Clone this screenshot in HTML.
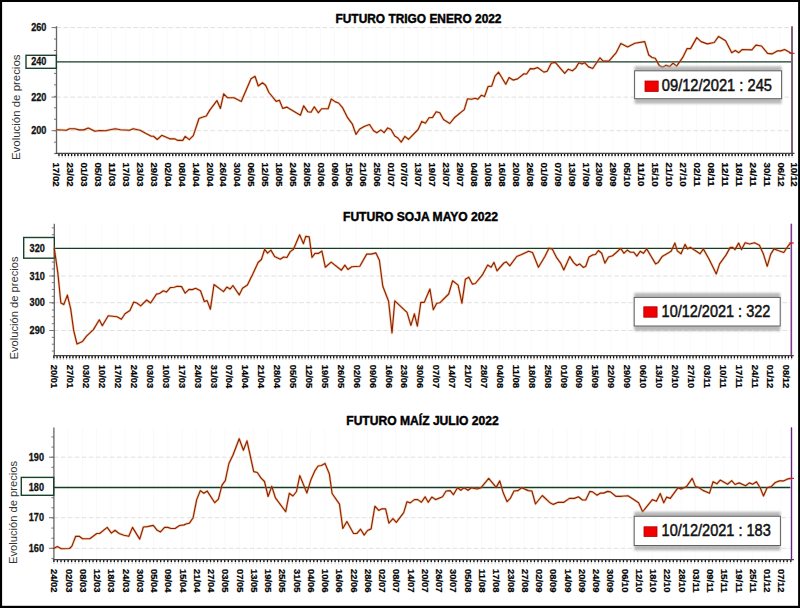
<!DOCTYPE html><html><head><meta charset="utf-8"><style>html,body{margin:0;padding:0;background:#000;}svg{display:block;}</style></head><body>
<svg width="800" height="608" viewBox="0 0 800 608" font-family='"Liberation Sans", sans-serif'>
<defs><filter id="sh" x="-10%" y="-40%" width="120%" height="180%"><feGaussianBlur stdDeviation="1.3"/></filter></defs>
<rect x="0" y="0" width="800" height="608" fill="#000"/>
<rect x="2.1" y="2" width="796.0" height="603.8" fill="#fff"/>
<line x1="69.74" y1="26.2" x2="69.74" y2="154.0" stroke="#fafafb" stroke-width="1"/>
<line x1="83.66" y1="26.2" x2="83.66" y2="154.0" stroke="#fafafb" stroke-width="1"/>
<line x1="97.59" y1="26.2" x2="97.59" y2="154.0" stroke="#fafafb" stroke-width="1"/>
<line x1="111.52" y1="26.2" x2="111.52" y2="154.0" stroke="#fafafb" stroke-width="1"/>
<line x1="125.45" y1="26.2" x2="125.45" y2="154.0" stroke="#fafafb" stroke-width="1"/>
<line x1="139.37" y1="26.2" x2="139.37" y2="154.0" stroke="#fafafb" stroke-width="1"/>
<line x1="153.30" y1="26.2" x2="153.30" y2="154.0" stroke="#fafafb" stroke-width="1"/>
<line x1="167.23" y1="26.2" x2="167.23" y2="154.0" stroke="#fafafb" stroke-width="1"/>
<line x1="181.16" y1="26.2" x2="181.16" y2="154.0" stroke="#fafafb" stroke-width="1"/>
<line x1="195.08" y1="26.2" x2="195.08" y2="154.0" stroke="#fafafb" stroke-width="1"/>
<line x1="209.01" y1="26.2" x2="209.01" y2="154.0" stroke="#fafafb" stroke-width="1"/>
<line x1="222.94" y1="26.2" x2="222.94" y2="154.0" stroke="#fafafb" stroke-width="1"/>
<line x1="236.87" y1="26.2" x2="236.87" y2="154.0" stroke="#fafafb" stroke-width="1"/>
<line x1="250.79" y1="26.2" x2="250.79" y2="154.0" stroke="#fafafb" stroke-width="1"/>
<line x1="264.72" y1="26.2" x2="264.72" y2="154.0" stroke="#fafafb" stroke-width="1"/>
<line x1="278.65" y1="26.2" x2="278.65" y2="154.0" stroke="#fafafb" stroke-width="1"/>
<line x1="292.58" y1="26.2" x2="292.58" y2="154.0" stroke="#fafafb" stroke-width="1"/>
<line x1="306.50" y1="26.2" x2="306.50" y2="154.0" stroke="#fafafb" stroke-width="1"/>
<line x1="320.43" y1="26.2" x2="320.43" y2="154.0" stroke="#fafafb" stroke-width="1"/>
<line x1="334.36" y1="26.2" x2="334.36" y2="154.0" stroke="#fafafb" stroke-width="1"/>
<line x1="348.28" y1="26.2" x2="348.28" y2="154.0" stroke="#fafafb" stroke-width="1"/>
<line x1="362.21" y1="26.2" x2="362.21" y2="154.0" stroke="#fafafb" stroke-width="1"/>
<line x1="376.14" y1="26.2" x2="376.14" y2="154.0" stroke="#fafafb" stroke-width="1"/>
<line x1="390.07" y1="26.2" x2="390.07" y2="154.0" stroke="#fafafb" stroke-width="1"/>
<line x1="403.99" y1="26.2" x2="403.99" y2="154.0" stroke="#fafafb" stroke-width="1"/>
<line x1="417.92" y1="26.2" x2="417.92" y2="154.0" stroke="#fafafb" stroke-width="1"/>
<line x1="431.85" y1="26.2" x2="431.85" y2="154.0" stroke="#fafafb" stroke-width="1"/>
<line x1="445.78" y1="26.2" x2="445.78" y2="154.0" stroke="#fafafb" stroke-width="1"/>
<line x1="459.70" y1="26.2" x2="459.70" y2="154.0" stroke="#fafafb" stroke-width="1"/>
<line x1="473.63" y1="26.2" x2="473.63" y2="154.0" stroke="#fafafb" stroke-width="1"/>
<line x1="487.56" y1="26.2" x2="487.56" y2="154.0" stroke="#fafafb" stroke-width="1"/>
<line x1="501.49" y1="26.2" x2="501.49" y2="154.0" stroke="#fafafb" stroke-width="1"/>
<line x1="515.41" y1="26.2" x2="515.41" y2="154.0" stroke="#fafafb" stroke-width="1"/>
<line x1="529.34" y1="26.2" x2="529.34" y2="154.0" stroke="#fafafb" stroke-width="1"/>
<line x1="543.27" y1="26.2" x2="543.27" y2="154.0" stroke="#fafafb" stroke-width="1"/>
<line x1="557.19" y1="26.2" x2="557.19" y2="154.0" stroke="#fafafb" stroke-width="1"/>
<line x1="571.12" y1="26.2" x2="571.12" y2="154.0" stroke="#fafafb" stroke-width="1"/>
<line x1="585.05" y1="26.2" x2="585.05" y2="154.0" stroke="#fafafb" stroke-width="1"/>
<line x1="598.98" y1="26.2" x2="598.98" y2="154.0" stroke="#fafafb" stroke-width="1"/>
<line x1="612.90" y1="26.2" x2="612.90" y2="154.0" stroke="#fafafb" stroke-width="1"/>
<line x1="626.83" y1="26.2" x2="626.83" y2="154.0" stroke="#fafafb" stroke-width="1"/>
<line x1="640.76" y1="26.2" x2="640.76" y2="154.0" stroke="#fafafb" stroke-width="1"/>
<line x1="654.69" y1="26.2" x2="654.69" y2="154.0" stroke="#fafafb" stroke-width="1"/>
<line x1="668.61" y1="26.2" x2="668.61" y2="154.0" stroke="#fafafb" stroke-width="1"/>
<line x1="682.54" y1="26.2" x2="682.54" y2="154.0" stroke="#fafafb" stroke-width="1"/>
<line x1="696.47" y1="26.2" x2="696.47" y2="154.0" stroke="#fafafb" stroke-width="1"/>
<line x1="710.40" y1="26.2" x2="710.40" y2="154.0" stroke="#fafafb" stroke-width="1"/>
<line x1="724.32" y1="26.2" x2="724.32" y2="154.0" stroke="#fafafb" stroke-width="1"/>
<line x1="738.25" y1="26.2" x2="738.25" y2="154.0" stroke="#fafafb" stroke-width="1"/>
<line x1="752.18" y1="26.2" x2="752.18" y2="154.0" stroke="#fafafb" stroke-width="1"/>
<line x1="766.11" y1="26.2" x2="766.11" y2="154.0" stroke="#fafafb" stroke-width="1"/>
<line x1="780.03" y1="26.2" x2="780.03" y2="154.0" stroke="#fafafb" stroke-width="1"/>
<line x1="56.5" y1="27.6" x2="792.0" y2="27.6" stroke="#e0e0e0" stroke-width="1" stroke-dasharray="4.5 2.5"/>
<line x1="56.5" y1="97.1" x2="792.0" y2="97.1" stroke="#e0e0e0" stroke-width="1" stroke-dasharray="4.5 2.5"/>
<line x1="56.5" y1="130.7" x2="792.0" y2="130.7" stroke="#e0e0e0" stroke-width="1" stroke-dasharray="4.5 2.5"/>
<line x1="54.00" y1="27.60" x2="56.5" y2="27.60" stroke="#777" stroke-width="1"/>
<line x1="54.00" y1="39.06" x2="56.5" y2="39.06" stroke="#777" stroke-width="1"/>
<line x1="54.00" y1="50.51" x2="56.5" y2="50.51" stroke="#777" stroke-width="1"/>
<line x1="54.00" y1="61.97" x2="56.5" y2="61.97" stroke="#777" stroke-width="1"/>
<line x1="54.00" y1="73.43" x2="56.5" y2="73.43" stroke="#777" stroke-width="1"/>
<line x1="54.00" y1="84.88" x2="56.5" y2="84.88" stroke="#777" stroke-width="1"/>
<line x1="54.00" y1="96.34" x2="56.5" y2="96.34" stroke="#777" stroke-width="1"/>
<line x1="54.00" y1="107.80" x2="56.5" y2="107.80" stroke="#777" stroke-width="1"/>
<line x1="54.00" y1="119.25" x2="56.5" y2="119.25" stroke="#777" stroke-width="1"/>
<line x1="54.00" y1="130.71" x2="56.5" y2="130.71" stroke="#777" stroke-width="1"/>
<line x1="54.00" y1="142.17" x2="56.5" y2="142.17" stroke="#777" stroke-width="1"/>
<line x1="54.00" y1="153.62" x2="56.5" y2="153.62" stroke="#777" stroke-width="1"/>
<line x1="51.5" y1="27.6" x2="56.5" y2="27.6" stroke="#777" stroke-width="1"/>
<line x1="51.5" y1="61.8" x2="56.5" y2="61.8" stroke="#777" stroke-width="1"/>
<line x1="51.5" y1="97.1" x2="56.5" y2="97.1" stroke="#777" stroke-width="1"/>
<line x1="51.5" y1="130.7" x2="56.5" y2="130.7" stroke="#777" stroke-width="1"/>
<line x1="56.5" y1="26.2" x2="56.5" y2="154.0" stroke="#666" stroke-width="1.3"/>
<line x1="56.5" y1="61.8" x2="792.0" y2="61.8" stroke="#153d26" stroke-width="1.35"/>
<rect x="26" y="55.3" width="30.30" height="13.00" fill="#fff" stroke="#17432a" stroke-width="1.4"/>
<text x="46.4" y="31.10" text-anchor="end" font-size="10" font-weight="bold" fill="#111" stroke="#111" stroke-width="0.3" textLength="15.2" lengthAdjust="spacingAndGlyphs">260</text>
<text x="46.4" y="65.30" text-anchor="end" font-size="10" font-weight="bold" fill="#111" stroke="#111" stroke-width="0.3" textLength="15.2" lengthAdjust="spacingAndGlyphs">240</text>
<text x="46.4" y="100.60" text-anchor="end" font-size="10" font-weight="bold" fill="#111" stroke="#111" stroke-width="0.3" textLength="15.2" lengthAdjust="spacingAndGlyphs">220</text>
<text x="46.4" y="134.20" text-anchor="end" font-size="10" font-weight="bold" fill="#111" stroke="#111" stroke-width="0.3" textLength="15.2" lengthAdjust="spacingAndGlyphs">200</text>
<line x1="792.0" y1="26.2" x2="792.0" y2="154.0" stroke="#7d6478" stroke-width="2"/>
<path d="M58.97 154.0 v3.6 M62.13 154.0 v3.6 M65.29 154.0 v3.6 M68.45 154.0 v3.6 M71.61 154.0 v3.6 M74.77 154.0 v3.6 M77.93 154.0 v3.6 M81.09 154.0 v3.6 M84.25 154.0 v3.6 M87.41 154.0 v3.6 M90.57 154.0 v3.6 M93.73 154.0 v3.6 M96.89 154.0 v3.6 M100.05 154.0 v3.6 M103.21 154.0 v3.6 M106.37 154.0 v3.6 M109.53 154.0 v3.6 M112.69 154.0 v3.6 M115.85 154.0 v3.6 M119.01 154.0 v3.6 M122.17 154.0 v3.6 M125.33 154.0 v3.6 M128.49 154.0 v3.6 M131.65 154.0 v3.6 M134.81 154.0 v3.6 M137.97 154.0 v3.6 M141.13 154.0 v3.6 M144.29 154.0 v3.6 M147.45 154.0 v3.6 M150.61 154.0 v3.6 M153.77 154.0 v3.6 M156.93 154.0 v3.6 M160.09 154.0 v3.6 M163.25 154.0 v3.6 M166.41 154.0 v3.6 M169.57 154.0 v3.6 M172.73 154.0 v3.6 M175.89 154.0 v3.6 M179.05 154.0 v3.6 M182.21 154.0 v3.6 M185.37 154.0 v3.6 M188.53 154.0 v3.6 M191.69 154.0 v3.6 M194.85 154.0 v3.6 M198.01 154.0 v3.6 M201.17 154.0 v3.6 M204.33 154.0 v3.6 M207.49 154.0 v3.6 M210.65 154.0 v3.6 M213.81 154.0 v3.6 M216.97 154.0 v3.6 M220.13 154.0 v3.6 M223.29 154.0 v3.6 M226.45 154.0 v3.6 M229.61 154.0 v3.6 M232.77 154.0 v3.6 M235.93 154.0 v3.6 M239.09 154.0 v3.6 M242.25 154.0 v3.6 M245.41 154.0 v3.6 M248.57 154.0 v3.6 M251.73 154.0 v3.6 M254.89 154.0 v3.6 M258.05 154.0 v3.6 M261.21 154.0 v3.6 M264.37 154.0 v3.6 M267.53 154.0 v3.6 M270.69 154.0 v3.6 M273.85 154.0 v3.6 M277.01 154.0 v3.6 M280.17 154.0 v3.6 M283.33 154.0 v3.6 M286.49 154.0 v3.6 M289.65 154.0 v3.6 M292.81 154.0 v3.6 M295.97 154.0 v3.6 M299.13 154.0 v3.6 M302.29 154.0 v3.6 M305.45 154.0 v3.6 M308.61 154.0 v3.6 M311.77 154.0 v3.6 M314.93 154.0 v3.6 M318.09 154.0 v3.6 M321.25 154.0 v3.6 M324.41 154.0 v3.6 M327.57 154.0 v3.6 M330.73 154.0 v3.6 M333.89 154.0 v3.6 M337.05 154.0 v3.6 M340.21 154.0 v3.6 M343.37 154.0 v3.6 M346.53 154.0 v3.6 M349.69 154.0 v3.6 M352.85 154.0 v3.6 M356.01 154.0 v3.6 M359.17 154.0 v3.6 M362.33 154.0 v3.6 M365.49 154.0 v3.6 M368.65 154.0 v3.6 M371.81 154.0 v3.6 M374.97 154.0 v3.6 M378.13 154.0 v3.6 M381.29 154.0 v3.6 M384.45 154.0 v3.6 M387.61 154.0 v3.6 M390.77 154.0 v3.6 M393.93 154.0 v3.6 M397.09 154.0 v3.6 M400.25 154.0 v3.6 M403.41 154.0 v3.6 M406.57 154.0 v3.6 M409.73 154.0 v3.6 M412.89 154.0 v3.6 M416.05 154.0 v3.6 M419.21 154.0 v3.6 M422.37 154.0 v3.6 M425.53 154.0 v3.6 M428.69 154.0 v3.6 M431.85 154.0 v3.6 M435.01 154.0 v3.6 M438.17 154.0 v3.6 M441.33 154.0 v3.6 M444.49 154.0 v3.6 M447.65 154.0 v3.6 M450.81 154.0 v3.6 M453.97 154.0 v3.6 M457.13 154.0 v3.6 M460.29 154.0 v3.6 M463.45 154.0 v3.6 M466.61 154.0 v3.6 M469.77 154.0 v3.6 M472.93 154.0 v3.6 M476.09 154.0 v3.6 M479.25 154.0 v3.6 M482.41 154.0 v3.6 M485.57 154.0 v3.6 M488.73 154.0 v3.6 M491.89 154.0 v3.6 M495.05 154.0 v3.6 M498.21 154.0 v3.6 M501.37 154.0 v3.6 M504.53 154.0 v3.6 M507.69 154.0 v3.6 M510.85 154.0 v3.6 M514.01 154.0 v3.6 M517.17 154.0 v3.6 M520.33 154.0 v3.6 M523.49 154.0 v3.6 M526.65 154.0 v3.6 M529.81 154.0 v3.6 M532.97 154.0 v3.6 M536.13 154.0 v3.6 M539.29 154.0 v3.6 M542.45 154.0 v3.6 M545.61 154.0 v3.6 M548.77 154.0 v3.6 M551.93 154.0 v3.6 M555.09 154.0 v3.6 M558.25 154.0 v3.6 M561.41 154.0 v3.6 M564.57 154.0 v3.6 M567.73 154.0 v3.6 M570.89 154.0 v3.6 M574.05 154.0 v3.6 M577.21 154.0 v3.6 M580.37 154.0 v3.6 M583.53 154.0 v3.6 M586.69 154.0 v3.6 M589.85 154.0 v3.6 M593.01 154.0 v3.6 M596.17 154.0 v3.6 M599.33 154.0 v3.6 M602.49 154.0 v3.6 M605.65 154.0 v3.6 M608.81 154.0 v3.6 M611.97 154.0 v3.6 M615.13 154.0 v3.6 M618.29 154.0 v3.6 M621.45 154.0 v3.6 M624.61 154.0 v3.6 M627.77 154.0 v3.6 M630.93 154.0 v3.6 M634.09 154.0 v3.6 M637.25 154.0 v3.6 M640.41 154.0 v3.6 M643.57 154.0 v3.6 M646.73 154.0 v3.6 M649.89 154.0 v3.6 M653.05 154.0 v3.6 M656.21 154.0 v3.6 M659.37 154.0 v3.6 M662.53 154.0 v3.6 M665.69 154.0 v3.6 M668.85 154.0 v3.6 M672.01 154.0 v3.6 M675.17 154.0 v3.6 M678.33 154.0 v3.6 M681.49 154.0 v3.6 M684.65 154.0 v3.6 M687.81 154.0 v3.6 M690.97 154.0 v3.6 M694.13 154.0 v3.6 M697.29 154.0 v3.6 M700.45 154.0 v3.6 M703.61 154.0 v3.6 M706.77 154.0 v3.6 M709.93 154.0 v3.6 M713.09 154.0 v3.6 M716.25 154.0 v3.6 M719.41 154.0 v3.6 M722.57 154.0 v3.6 M725.73 154.0 v3.6 M728.89 154.0 v3.6 M732.05 154.0 v3.6 M735.21 154.0 v3.6 M738.37 154.0 v3.6 M741.53 154.0 v3.6 M744.69 154.0 v3.6 M747.85 154.0 v3.6 M751.01 154.0 v3.6 M754.17 154.0 v3.6 M757.33 154.0 v3.6 M760.49 154.0 v3.6 M763.65 154.0 v3.6 M766.81 154.0 v3.6 M769.97 154.0 v3.6 M773.13 154.0 v3.6 M776.29 154.0 v3.6 M779.45 154.0 v3.6 M782.61 154.0 v3.6 M785.77 154.0 v3.6 M788.93 154.0 v3.6 M792.09 154.0 v3.6" stroke="#c4c4c4" stroke-width="1"/>
<path d="M58.97 153.5 v2.4 M62.13 153.5 v2.4 M65.29 153.5 v2.4 M68.45 153.5 v2.4 M71.61 153.5 v2.4 M74.77 153.5 v2.4 M77.93 153.5 v2.4 M81.09 153.5 v2.4 M84.25 153.5 v2.4 M87.41 153.5 v2.4 M90.57 153.5 v2.4 M93.73 153.5 v2.4 M96.89 153.5 v2.4 M100.05 153.5 v2.4 M103.21 153.5 v2.4 M106.37 153.5 v2.4 M109.53 153.5 v2.4 M112.69 153.5 v2.4 M115.85 153.5 v2.4 M119.01 153.5 v2.4 M122.17 153.5 v2.4 M125.33 153.5 v2.4 M128.49 153.5 v2.4 M131.65 153.5 v2.4 M134.81 153.5 v2.4 M137.97 153.5 v2.4 M141.13 153.5 v2.4 M144.29 153.5 v2.4 M147.45 153.5 v2.4 M150.61 153.5 v2.4 M153.77 153.5 v2.4 M156.93 153.5 v2.4 M160.09 153.5 v2.4 M163.25 153.5 v2.4 M166.41 153.5 v2.4 M169.57 153.5 v2.4 M172.73 153.5 v2.4 M175.89 153.5 v2.4 M179.05 153.5 v2.4 M182.21 153.5 v2.4 M185.37 153.5 v2.4 M188.53 153.5 v2.4 M191.69 153.5 v2.4 M194.85 153.5 v2.4 M198.01 153.5 v2.4 M201.17 153.5 v2.4 M204.33 153.5 v2.4 M207.49 153.5 v2.4 M210.65 153.5 v2.4 M213.81 153.5 v2.4 M216.97 153.5 v2.4 M220.13 153.5 v2.4 M223.29 153.5 v2.4 M226.45 153.5 v2.4 M229.61 153.5 v2.4 M232.77 153.5 v2.4 M235.93 153.5 v2.4 M239.09 153.5 v2.4 M242.25 153.5 v2.4 M245.41 153.5 v2.4 M248.57 153.5 v2.4 M251.73 153.5 v2.4 M254.89 153.5 v2.4 M258.05 153.5 v2.4 M261.21 153.5 v2.4 M264.37 153.5 v2.4 M267.53 153.5 v2.4 M270.69 153.5 v2.4 M273.85 153.5 v2.4 M277.01 153.5 v2.4 M280.17 153.5 v2.4 M283.33 153.5 v2.4 M286.49 153.5 v2.4 M289.65 153.5 v2.4 M292.81 153.5 v2.4 M295.97 153.5 v2.4 M299.13 153.5 v2.4 M302.29 153.5 v2.4 M305.45 153.5 v2.4 M308.61 153.5 v2.4 M311.77 153.5 v2.4 M314.93 153.5 v2.4 M318.09 153.5 v2.4 M321.25 153.5 v2.4 M324.41 153.5 v2.4 M327.57 153.5 v2.4 M330.73 153.5 v2.4 M333.89 153.5 v2.4 M337.05 153.5 v2.4 M340.21 153.5 v2.4 M343.37 153.5 v2.4 M346.53 153.5 v2.4 M349.69 153.5 v2.4 M352.85 153.5 v2.4 M356.01 153.5 v2.4 M359.17 153.5 v2.4 M362.33 153.5 v2.4 M365.49 153.5 v2.4 M368.65 153.5 v2.4 M371.81 153.5 v2.4 M374.97 153.5 v2.4 M378.13 153.5 v2.4 M381.29 153.5 v2.4 M384.45 153.5 v2.4 M387.61 153.5 v2.4 M390.77 153.5 v2.4 M393.93 153.5 v2.4 M397.09 153.5 v2.4 M400.25 153.5 v2.4 M403.41 153.5 v2.4 M406.57 153.5 v2.4 M409.73 153.5 v2.4 M412.89 153.5 v2.4 M416.05 153.5 v2.4 M419.21 153.5 v2.4 M422.37 153.5 v2.4 M425.53 153.5 v2.4 M428.69 153.5 v2.4 M431.85 153.5 v2.4 M435.01 153.5 v2.4 M438.17 153.5 v2.4 M441.33 153.5 v2.4 M444.49 153.5 v2.4 M447.65 153.5 v2.4 M450.81 153.5 v2.4 M453.97 153.5 v2.4 M457.13 153.5 v2.4 M460.29 153.5 v2.4 M463.45 153.5 v2.4 M466.61 153.5 v2.4 M469.77 153.5 v2.4 M472.93 153.5 v2.4 M476.09 153.5 v2.4 M479.25 153.5 v2.4 M482.41 153.5 v2.4 M485.57 153.5 v2.4 M488.73 153.5 v2.4 M491.89 153.5 v2.4 M495.05 153.5 v2.4 M498.21 153.5 v2.4 M501.37 153.5 v2.4 M504.53 153.5 v2.4 M507.69 153.5 v2.4 M510.85 153.5 v2.4 M514.01 153.5 v2.4 M517.17 153.5 v2.4 M520.33 153.5 v2.4 M523.49 153.5 v2.4 M526.65 153.5 v2.4 M529.81 153.5 v2.4 M532.97 153.5 v2.4 M536.13 153.5 v2.4 M539.29 153.5 v2.4 M542.45 153.5 v2.4 M545.61 153.5 v2.4 M548.77 153.5 v2.4 M551.93 153.5 v2.4 M555.09 153.5 v2.4 M558.25 153.5 v2.4 M561.41 153.5 v2.4 M564.57 153.5 v2.4 M567.73 153.5 v2.4 M570.89 153.5 v2.4 M574.05 153.5 v2.4 M577.21 153.5 v2.4 M580.37 153.5 v2.4 M583.53 153.5 v2.4 M586.69 153.5 v2.4 M589.85 153.5 v2.4 M593.01 153.5 v2.4 M596.17 153.5 v2.4 M599.33 153.5 v2.4 M602.49 153.5 v2.4 M605.65 153.5 v2.4 M608.81 153.5 v2.4 M611.97 153.5 v2.4 M615.13 153.5 v2.4 M618.29 153.5 v2.4 M621.45 153.5 v2.4 M624.61 153.5 v2.4 M627.77 153.5 v2.4 M630.93 153.5 v2.4 M634.09 153.5 v2.4 M637.25 153.5 v2.4 M640.41 153.5 v2.4 M643.57 153.5 v2.4 M646.73 153.5 v2.4 M649.89 153.5 v2.4 M653.05 153.5 v2.4 M656.21 153.5 v2.4 M659.37 153.5 v2.4 M662.53 153.5 v2.4 M665.69 153.5 v2.4 M668.85 153.5 v2.4 M672.01 153.5 v2.4 M675.17 153.5 v2.4 M678.33 153.5 v2.4 M681.49 153.5 v2.4 M684.65 153.5 v2.4 M687.81 153.5 v2.4 M690.97 153.5 v2.4 M694.13 153.5 v2.4 M697.29 153.5 v2.4 M700.45 153.5 v2.4 M703.61 153.5 v2.4 M706.77 153.5 v2.4 M709.93 153.5 v2.4 M713.09 153.5 v2.4 M716.25 153.5 v2.4 M719.41 153.5 v2.4 M722.57 153.5 v2.4 M725.73 153.5 v2.4 M728.89 153.5 v2.4 M732.05 153.5 v2.4 M735.21 153.5 v2.4 M738.37 153.5 v2.4 M741.53 153.5 v2.4 M744.69 153.5 v2.4 M747.85 153.5 v2.4 M751.01 153.5 v2.4 M754.17 153.5 v2.4 M757.33 153.5 v2.4 M760.49 153.5 v2.4 M763.65 153.5 v2.4 M766.81 153.5 v2.4 M769.97 153.5 v2.4 M773.13 153.5 v2.4 M776.29 153.5 v2.4 M779.45 153.5 v2.4 M782.61 153.5 v2.4 M785.77 153.5 v2.4 M788.93 153.5 v2.4 M792.09 153.5 v2.4" stroke="#111" stroke-width="1.3"/>
<line x1="55.5" y1="153.4" x2="794.5" y2="153.4" stroke="#444" stroke-width="1.2"/>
<text transform="translate(53.31,162.50) rotate(90)" font-size="9.7" font-weight="bold" fill="#000" stroke="#000" stroke-width="0.22" textLength="24.1" lengthAdjust="spacingAndGlyphs">17/02</text>
<text transform="translate(67.24,162.50) rotate(90)" font-size="9.7" font-weight="bold" fill="#000" stroke="#000" stroke-width="0.22" textLength="24.1" lengthAdjust="spacingAndGlyphs">23/02</text>
<text transform="translate(81.16,162.50) rotate(90)" font-size="9.7" font-weight="bold" fill="#000" stroke="#000" stroke-width="0.22" textLength="24.1" lengthAdjust="spacingAndGlyphs">01/03</text>
<text transform="translate(95.09,162.50) rotate(90)" font-size="9.7" font-weight="bold" fill="#000" stroke="#000" stroke-width="0.22" textLength="24.1" lengthAdjust="spacingAndGlyphs">05/03</text>
<text transform="translate(109.02,162.50) rotate(90)" font-size="9.7" font-weight="bold" fill="#000" stroke="#000" stroke-width="0.22" textLength="24.1" lengthAdjust="spacingAndGlyphs">11/03</text>
<text transform="translate(122.95,162.50) rotate(90)" font-size="9.7" font-weight="bold" fill="#000" stroke="#000" stroke-width="0.22" textLength="24.1" lengthAdjust="spacingAndGlyphs">17/03</text>
<text transform="translate(136.87,162.50) rotate(90)" font-size="9.7" font-weight="bold" fill="#000" stroke="#000" stroke-width="0.22" textLength="24.1" lengthAdjust="spacingAndGlyphs">23/03</text>
<text transform="translate(150.80,162.50) rotate(90)" font-size="9.7" font-weight="bold" fill="#000" stroke="#000" stroke-width="0.22" textLength="24.1" lengthAdjust="spacingAndGlyphs">29/03</text>
<text transform="translate(164.73,162.50) rotate(90)" font-size="9.7" font-weight="bold" fill="#000" stroke="#000" stroke-width="0.22" textLength="24.1" lengthAdjust="spacingAndGlyphs">02/04</text>
<text transform="translate(178.66,162.50) rotate(90)" font-size="9.7" font-weight="bold" fill="#000" stroke="#000" stroke-width="0.22" textLength="24.1" lengthAdjust="spacingAndGlyphs">08/04</text>
<text transform="translate(192.58,162.50) rotate(90)" font-size="9.7" font-weight="bold" fill="#000" stroke="#000" stroke-width="0.22" textLength="24.1" lengthAdjust="spacingAndGlyphs">14/04</text>
<text transform="translate(206.51,162.50) rotate(90)" font-size="9.7" font-weight="bold" fill="#000" stroke="#000" stroke-width="0.22" textLength="24.1" lengthAdjust="spacingAndGlyphs">20/04</text>
<text transform="translate(220.44,162.50) rotate(90)" font-size="9.7" font-weight="bold" fill="#000" stroke="#000" stroke-width="0.22" textLength="24.1" lengthAdjust="spacingAndGlyphs">26/04</text>
<text transform="translate(234.37,162.50) rotate(90)" font-size="9.7" font-weight="bold" fill="#000" stroke="#000" stroke-width="0.22" textLength="24.1" lengthAdjust="spacingAndGlyphs">30/04</text>
<text transform="translate(248.29,162.50) rotate(90)" font-size="9.7" font-weight="bold" fill="#000" stroke="#000" stroke-width="0.22" textLength="24.1" lengthAdjust="spacingAndGlyphs">06/05</text>
<text transform="translate(262.22,162.50) rotate(90)" font-size="9.7" font-weight="bold" fill="#000" stroke="#000" stroke-width="0.22" textLength="24.1" lengthAdjust="spacingAndGlyphs">12/05</text>
<text transform="translate(276.15,162.50) rotate(90)" font-size="9.7" font-weight="bold" fill="#000" stroke="#000" stroke-width="0.22" textLength="24.1" lengthAdjust="spacingAndGlyphs">18/05</text>
<text transform="translate(290.08,162.50) rotate(90)" font-size="9.7" font-weight="bold" fill="#000" stroke="#000" stroke-width="0.22" textLength="24.1" lengthAdjust="spacingAndGlyphs">24/05</text>
<text transform="translate(304.00,162.50) rotate(90)" font-size="9.7" font-weight="bold" fill="#000" stroke="#000" stroke-width="0.22" textLength="24.1" lengthAdjust="spacingAndGlyphs">28/05</text>
<text transform="translate(317.93,162.50) rotate(90)" font-size="9.7" font-weight="bold" fill="#000" stroke="#000" stroke-width="0.22" textLength="24.1" lengthAdjust="spacingAndGlyphs">03/06</text>
<text transform="translate(331.86,162.50) rotate(90)" font-size="9.7" font-weight="bold" fill="#000" stroke="#000" stroke-width="0.22" textLength="24.1" lengthAdjust="spacingAndGlyphs">09/06</text>
<text transform="translate(345.78,162.50) rotate(90)" font-size="9.7" font-weight="bold" fill="#000" stroke="#000" stroke-width="0.22" textLength="24.1" lengthAdjust="spacingAndGlyphs">15/06</text>
<text transform="translate(359.71,162.50) rotate(90)" font-size="9.7" font-weight="bold" fill="#000" stroke="#000" stroke-width="0.22" textLength="24.1" lengthAdjust="spacingAndGlyphs">21/06</text>
<text transform="translate(373.64,162.50) rotate(90)" font-size="9.7" font-weight="bold" fill="#000" stroke="#000" stroke-width="0.22" textLength="24.1" lengthAdjust="spacingAndGlyphs">25/06</text>
<text transform="translate(387.57,162.50) rotate(90)" font-size="9.7" font-weight="bold" fill="#000" stroke="#000" stroke-width="0.22" textLength="24.1" lengthAdjust="spacingAndGlyphs">01/07</text>
<text transform="translate(401.49,162.50) rotate(90)" font-size="9.7" font-weight="bold" fill="#000" stroke="#000" stroke-width="0.22" textLength="24.1" lengthAdjust="spacingAndGlyphs">07/07</text>
<text transform="translate(415.42,162.50) rotate(90)" font-size="9.7" font-weight="bold" fill="#000" stroke="#000" stroke-width="0.22" textLength="24.1" lengthAdjust="spacingAndGlyphs">13/07</text>
<text transform="translate(429.35,162.50) rotate(90)" font-size="9.7" font-weight="bold" fill="#000" stroke="#000" stroke-width="0.22" textLength="24.1" lengthAdjust="spacingAndGlyphs">19/07</text>
<text transform="translate(443.28,162.50) rotate(90)" font-size="9.7" font-weight="bold" fill="#000" stroke="#000" stroke-width="0.22" textLength="24.1" lengthAdjust="spacingAndGlyphs">23/07</text>
<text transform="translate(457.20,162.50) rotate(90)" font-size="9.7" font-weight="bold" fill="#000" stroke="#000" stroke-width="0.22" textLength="24.1" lengthAdjust="spacingAndGlyphs">29/07</text>
<text transform="translate(471.13,162.50) rotate(90)" font-size="9.7" font-weight="bold" fill="#000" stroke="#000" stroke-width="0.22" textLength="24.1" lengthAdjust="spacingAndGlyphs">04/08</text>
<text transform="translate(485.06,162.50) rotate(90)" font-size="9.7" font-weight="bold" fill="#000" stroke="#000" stroke-width="0.22" textLength="24.1" lengthAdjust="spacingAndGlyphs">10/08</text>
<text transform="translate(498.99,162.50) rotate(90)" font-size="9.7" font-weight="bold" fill="#000" stroke="#000" stroke-width="0.22" textLength="24.1" lengthAdjust="spacingAndGlyphs">16/08</text>
<text transform="translate(512.91,162.50) rotate(90)" font-size="9.7" font-weight="bold" fill="#000" stroke="#000" stroke-width="0.22" textLength="24.1" lengthAdjust="spacingAndGlyphs">20/08</text>
<text transform="translate(526.84,162.50) rotate(90)" font-size="9.7" font-weight="bold" fill="#000" stroke="#000" stroke-width="0.22" textLength="24.1" lengthAdjust="spacingAndGlyphs">26/08</text>
<text transform="translate(540.77,162.50) rotate(90)" font-size="9.7" font-weight="bold" fill="#000" stroke="#000" stroke-width="0.22" textLength="24.1" lengthAdjust="spacingAndGlyphs">01/09</text>
<text transform="translate(554.69,162.50) rotate(90)" font-size="9.7" font-weight="bold" fill="#000" stroke="#000" stroke-width="0.22" textLength="24.1" lengthAdjust="spacingAndGlyphs">07/09</text>
<text transform="translate(568.62,162.50) rotate(90)" font-size="9.7" font-weight="bold" fill="#000" stroke="#000" stroke-width="0.22" textLength="24.1" lengthAdjust="spacingAndGlyphs">13/09</text>
<text transform="translate(582.55,162.50) rotate(90)" font-size="9.7" font-weight="bold" fill="#000" stroke="#000" stroke-width="0.22" textLength="24.1" lengthAdjust="spacingAndGlyphs">17/09</text>
<text transform="translate(596.48,162.50) rotate(90)" font-size="9.7" font-weight="bold" fill="#000" stroke="#000" stroke-width="0.22" textLength="24.1" lengthAdjust="spacingAndGlyphs">23/09</text>
<text transform="translate(610.40,162.50) rotate(90)" font-size="9.7" font-weight="bold" fill="#000" stroke="#000" stroke-width="0.22" textLength="24.1" lengthAdjust="spacingAndGlyphs">29/09</text>
<text transform="translate(624.33,162.50) rotate(90)" font-size="9.7" font-weight="bold" fill="#000" stroke="#000" stroke-width="0.22" textLength="24.1" lengthAdjust="spacingAndGlyphs">05/10</text>
<text transform="translate(638.26,162.50) rotate(90)" font-size="9.7" font-weight="bold" fill="#000" stroke="#000" stroke-width="0.22" textLength="24.1" lengthAdjust="spacingAndGlyphs">11/10</text>
<text transform="translate(652.19,162.50) rotate(90)" font-size="9.7" font-weight="bold" fill="#000" stroke="#000" stroke-width="0.22" textLength="24.1" lengthAdjust="spacingAndGlyphs">15/10</text>
<text transform="translate(666.11,162.50) rotate(90)" font-size="9.7" font-weight="bold" fill="#000" stroke="#000" stroke-width="0.22" textLength="24.1" lengthAdjust="spacingAndGlyphs">21/10</text>
<text transform="translate(680.04,162.50) rotate(90)" font-size="9.7" font-weight="bold" fill="#000" stroke="#000" stroke-width="0.22" textLength="24.1" lengthAdjust="spacingAndGlyphs">27/10</text>
<text transform="translate(693.97,162.50) rotate(90)" font-size="9.7" font-weight="bold" fill="#000" stroke="#000" stroke-width="0.22" textLength="24.1" lengthAdjust="spacingAndGlyphs">02/11</text>
<text transform="translate(707.90,162.50) rotate(90)" font-size="9.7" font-weight="bold" fill="#000" stroke="#000" stroke-width="0.22" textLength="24.1" lengthAdjust="spacingAndGlyphs">08/11</text>
<text transform="translate(721.82,162.50) rotate(90)" font-size="9.7" font-weight="bold" fill="#000" stroke="#000" stroke-width="0.22" textLength="24.1" lengthAdjust="spacingAndGlyphs">12/11</text>
<text transform="translate(735.75,162.50) rotate(90)" font-size="9.7" font-weight="bold" fill="#000" stroke="#000" stroke-width="0.22" textLength="24.1" lengthAdjust="spacingAndGlyphs">18/11</text>
<text transform="translate(749.68,162.50) rotate(90)" font-size="9.7" font-weight="bold" fill="#000" stroke="#000" stroke-width="0.22" textLength="24.1" lengthAdjust="spacingAndGlyphs">24/11</text>
<text transform="translate(763.61,162.50) rotate(90)" font-size="9.7" font-weight="bold" fill="#000" stroke="#000" stroke-width="0.22" textLength="24.1" lengthAdjust="spacingAndGlyphs">30/11</text>
<text transform="translate(777.53,162.50) rotate(90)" font-size="9.7" font-weight="bold" fill="#000" stroke="#000" stroke-width="0.22" textLength="24.1" lengthAdjust="spacingAndGlyphs">06/12</text>
<text transform="translate(791.46,162.50) rotate(90)" font-size="9.7" font-weight="bold" fill="#000" stroke="#000" stroke-width="0.22" textLength="24.1" lengthAdjust="spacingAndGlyphs">10/12</text>
<polyline points="56.75,129.75 66.50,130.20 69.50,128.70 74.75,128.70 79.25,129.90 83.75,129.90 88.25,128.00 95.00,131.25 99.50,130.50 105.50,130.80 110.00,129.75 115.25,128.70 120.50,129.75 129.50,130.20 133.25,128.70 140.00,130.20 146.00,133.50 151.25,136.20 153.50,136.20 157.25,139.50 161.75,135.30 169.75,138.80 174.60,138.80 177.90,140.40 182.75,140.40 185.20,136.40 189.25,139.60 193.30,135.60 199.00,118.50 202.25,117.20 206.30,116.00 209.60,110.40 216.90,100.60 220.40,108.40 223.70,93.80 227.40,97.70 233.90,97.70 241.25,101.40 251.00,78.70 255.00,76.25 258.30,86.00 262.40,82.75 265.60,85.20 268.90,92.50 276.20,101.40 279.40,100.30 282.70,108.40 286.75,107.10 288.25,108.00 300.40,115.25 303.70,105.80 307.75,111.70 311.00,112.30 314.25,106.80 318.30,112.80 321.60,108.75 328.10,108.75 331.30,99.00 335.40,101.90 338.60,103.00 342.70,107.90 347.60,117.70 352.40,124.20 356.00,134.40 359.75,129.00 364.60,126.30 369.50,124.50 373.60,130.70 376.80,132.80 380.90,129.90 384.10,132.60 387.70,127.90 391.00,129.50 394.70,136.00 397.90,138.00 401.20,142.10 404.90,136.40 408.50,139.30 418.10,129.50 421.75,121.40 425.40,123.20 429.00,117.80 432.60,117.40 436.20,111.80 439.80,112.70 443.50,119.60 449.80,123.50 454.30,117.80 464.25,109.60 467.50,98.80 471.50,99.30 475.10,98.20 477.80,99.30 481.40,95.20 484.50,96.60 488.10,86.50 491.70,86.10 495.00,76.20 498.60,72.20 505.80,84.30 509.10,77.60 513.10,80.10 517.60,78.90 523.90,73.80 526.60,74.00 530.25,68.60 533.90,68.90 537.50,67.50 543.90,72.10 547.20,71.30 551.25,63.20 555.30,62.40 560.20,68.10 564.70,73.30 568.30,69.20 572.40,70.80 575.60,68.10 578.90,62.70 582.10,64.00 584.60,62.70 588.60,66.90 592.70,68.50 600.00,57.80 603.25,61.10 608.90,61.10 616.25,52.60 620.80,43.40 627.60,46.90 634.90,43.20 644.70,41.60 648.75,55.00 652.00,57.50 655.25,58.30 659.30,65.60 662.60,67.35 666.10,65.25 669.60,66.65 673.10,63.15 676.60,66.10 682.75,57.40 687.10,48.60 690.60,48.60 696.75,37.60 701.10,41.60 707.25,43.90 714.25,42.50 718.60,36.40 725.60,40.75 731.75,52.65 735.25,50.40 738.75,52.65 742.25,49.50 751.90,49.85 755.90,45.10 761.50,46.00 767.60,53.35 772.00,53.90 777.25,50.90 780.75,50.90 784.60,49.50 791.25,53.35" fill="none" stroke="#f08038" stroke-opacity="0.4" stroke-width="2.5" stroke-linejoin="round" stroke-linecap="round"/>
<polyline points="56.75,129.75 66.50,130.20 69.50,128.70 74.75,128.70 79.25,129.90 83.75,129.90 88.25,128.00 95.00,131.25 99.50,130.50 105.50,130.80 110.00,129.75 115.25,128.70 120.50,129.75 129.50,130.20 133.25,128.70 140.00,130.20 146.00,133.50 151.25,136.20 153.50,136.20 157.25,139.50 161.75,135.30 169.75,138.80 174.60,138.80 177.90,140.40 182.75,140.40 185.20,136.40 189.25,139.60 193.30,135.60 199.00,118.50 202.25,117.20 206.30,116.00 209.60,110.40 216.90,100.60 220.40,108.40 223.70,93.80 227.40,97.70 233.90,97.70 241.25,101.40 251.00,78.70 255.00,76.25 258.30,86.00 262.40,82.75 265.60,85.20 268.90,92.50 276.20,101.40 279.40,100.30 282.70,108.40 286.75,107.10 288.25,108.00 300.40,115.25 303.70,105.80 307.75,111.70 311.00,112.30 314.25,106.80 318.30,112.80 321.60,108.75 328.10,108.75 331.30,99.00 335.40,101.90 338.60,103.00 342.70,107.90 347.60,117.70 352.40,124.20 356.00,134.40 359.75,129.00 364.60,126.30 369.50,124.50 373.60,130.70 376.80,132.80 380.90,129.90 384.10,132.60 387.70,127.90 391.00,129.50 394.70,136.00 397.90,138.00 401.20,142.10 404.90,136.40 408.50,139.30 418.10,129.50 421.75,121.40 425.40,123.20 429.00,117.80 432.60,117.40 436.20,111.80 439.80,112.70 443.50,119.60 449.80,123.50 454.30,117.80 464.25,109.60 467.50,98.80 471.50,99.30 475.10,98.20 477.80,99.30 481.40,95.20 484.50,96.60 488.10,86.50 491.70,86.10 495.00,76.20 498.60,72.20 505.80,84.30 509.10,77.60 513.10,80.10 517.60,78.90 523.90,73.80 526.60,74.00 530.25,68.60 533.90,68.90 537.50,67.50 543.90,72.10 547.20,71.30 551.25,63.20 555.30,62.40 560.20,68.10 564.70,73.30 568.30,69.20 572.40,70.80 575.60,68.10 578.90,62.70 582.10,64.00 584.60,62.70 588.60,66.90 592.70,68.50 600.00,57.80 603.25,61.10 608.90,61.10 616.25,52.60 620.80,43.40 627.60,46.90 634.90,43.20 644.70,41.60 648.75,55.00 652.00,57.50 655.25,58.30 659.30,65.60 662.60,67.35 666.10,65.25 669.60,66.65 673.10,63.15 676.60,66.10 682.75,57.40 687.10,48.60 690.60,48.60 696.75,37.60 701.10,41.60 707.25,43.90 714.25,42.50 718.60,36.40 725.60,40.75 731.75,52.65 735.25,50.40 738.75,52.65 742.25,49.50 751.90,49.85 755.90,45.10 761.50,46.00 767.60,53.35 772.00,53.90 777.25,50.90 780.75,50.90 784.60,49.50 791.25,53.35" fill="none" stroke="#8a2400" stroke-width="1.15" stroke-linejoin="round" stroke-linecap="round"/>
<line x1="789.5" y1="53.3" x2="794.5" y2="53.3" stroke="#c01830" stroke-width="1.1"/>
<text x="335.5" y="23" font-size="13.2" font-weight="bold" fill="#000" stroke="#000" stroke-width="0.45" textLength="166" lengthAdjust="spacingAndGlyphs">FUTURO TRIGO ENERO 2022</text>
<text transform="translate(19.50,160.00) rotate(-90)" font-size="11" fill="#333" textLength="105.5" lengthAdjust="spacingAndGlyphs">Evolución de precios</text>
<rect x="634.6" y="66.3" width="147.00" height="37.40" fill="#a8a8a8" opacity="0.8" filter="url(#sh)"/>
<rect x="634.6" y="70.8" width="147.00" height="27.90" fill="#fff" stroke="#606060" stroke-width="1"/>
<rect x="645" y="81" width="13.20" height="10.50" fill="#f00000" stroke="#b00000" stroke-width="0.8"/>
<text x="661.8" y="91.3" font-size="16" fill="#111" stroke="#111" stroke-width="0.5" textLength="110.2" lengthAdjust="spacingAndGlyphs">09/12/2021 : 245</text>
<line x1="69.80" y1="223.7" x2="69.80" y2="356.3" stroke="#fafafb" stroke-width="1"/>
<line x1="85.71" y1="223.7" x2="85.71" y2="356.3" stroke="#fafafb" stroke-width="1"/>
<line x1="101.63" y1="223.7" x2="101.63" y2="356.3" stroke="#fafafb" stroke-width="1"/>
<line x1="117.54" y1="223.7" x2="117.54" y2="356.3" stroke="#fafafb" stroke-width="1"/>
<line x1="133.45" y1="223.7" x2="133.45" y2="356.3" stroke="#fafafb" stroke-width="1"/>
<line x1="149.36" y1="223.7" x2="149.36" y2="356.3" stroke="#fafafb" stroke-width="1"/>
<line x1="165.28" y1="223.7" x2="165.28" y2="356.3" stroke="#fafafb" stroke-width="1"/>
<line x1="181.19" y1="223.7" x2="181.19" y2="356.3" stroke="#fafafb" stroke-width="1"/>
<line x1="197.10" y1="223.7" x2="197.10" y2="356.3" stroke="#fafafb" stroke-width="1"/>
<line x1="213.01" y1="223.7" x2="213.01" y2="356.3" stroke="#fafafb" stroke-width="1"/>
<line x1="228.92" y1="223.7" x2="228.92" y2="356.3" stroke="#fafafb" stroke-width="1"/>
<line x1="244.84" y1="223.7" x2="244.84" y2="356.3" stroke="#fafafb" stroke-width="1"/>
<line x1="260.75" y1="223.7" x2="260.75" y2="356.3" stroke="#fafafb" stroke-width="1"/>
<line x1="276.66" y1="223.7" x2="276.66" y2="356.3" stroke="#fafafb" stroke-width="1"/>
<line x1="292.57" y1="223.7" x2="292.57" y2="356.3" stroke="#fafafb" stroke-width="1"/>
<line x1="308.48" y1="223.7" x2="308.48" y2="356.3" stroke="#fafafb" stroke-width="1"/>
<line x1="324.40" y1="223.7" x2="324.40" y2="356.3" stroke="#fafafb" stroke-width="1"/>
<line x1="340.31" y1="223.7" x2="340.31" y2="356.3" stroke="#fafafb" stroke-width="1"/>
<line x1="356.22" y1="223.7" x2="356.22" y2="356.3" stroke="#fafafb" stroke-width="1"/>
<line x1="372.13" y1="223.7" x2="372.13" y2="356.3" stroke="#fafafb" stroke-width="1"/>
<line x1="388.05" y1="223.7" x2="388.05" y2="356.3" stroke="#fafafb" stroke-width="1"/>
<line x1="403.96" y1="223.7" x2="403.96" y2="356.3" stroke="#fafafb" stroke-width="1"/>
<line x1="419.87" y1="223.7" x2="419.87" y2="356.3" stroke="#fafafb" stroke-width="1"/>
<line x1="435.78" y1="223.7" x2="435.78" y2="356.3" stroke="#fafafb" stroke-width="1"/>
<line x1="451.69" y1="223.7" x2="451.69" y2="356.3" stroke="#fafafb" stroke-width="1"/>
<line x1="467.61" y1="223.7" x2="467.61" y2="356.3" stroke="#fafafb" stroke-width="1"/>
<line x1="483.52" y1="223.7" x2="483.52" y2="356.3" stroke="#fafafb" stroke-width="1"/>
<line x1="499.43" y1="223.7" x2="499.43" y2="356.3" stroke="#fafafb" stroke-width="1"/>
<line x1="515.34" y1="223.7" x2="515.34" y2="356.3" stroke="#fafafb" stroke-width="1"/>
<line x1="531.26" y1="223.7" x2="531.26" y2="356.3" stroke="#fafafb" stroke-width="1"/>
<line x1="547.17" y1="223.7" x2="547.17" y2="356.3" stroke="#fafafb" stroke-width="1"/>
<line x1="563.08" y1="223.7" x2="563.08" y2="356.3" stroke="#fafafb" stroke-width="1"/>
<line x1="578.99" y1="223.7" x2="578.99" y2="356.3" stroke="#fafafb" stroke-width="1"/>
<line x1="594.90" y1="223.7" x2="594.90" y2="356.3" stroke="#fafafb" stroke-width="1"/>
<line x1="610.82" y1="223.7" x2="610.82" y2="356.3" stroke="#fafafb" stroke-width="1"/>
<line x1="626.73" y1="223.7" x2="626.73" y2="356.3" stroke="#fafafb" stroke-width="1"/>
<line x1="642.64" y1="223.7" x2="642.64" y2="356.3" stroke="#fafafb" stroke-width="1"/>
<line x1="658.55" y1="223.7" x2="658.55" y2="356.3" stroke="#fafafb" stroke-width="1"/>
<line x1="674.46" y1="223.7" x2="674.46" y2="356.3" stroke="#fafafb" stroke-width="1"/>
<line x1="690.38" y1="223.7" x2="690.38" y2="356.3" stroke="#fafafb" stroke-width="1"/>
<line x1="706.29" y1="223.7" x2="706.29" y2="356.3" stroke="#fafafb" stroke-width="1"/>
<line x1="722.20" y1="223.7" x2="722.20" y2="356.3" stroke="#fafafb" stroke-width="1"/>
<line x1="738.11" y1="223.7" x2="738.11" y2="356.3" stroke="#fafafb" stroke-width="1"/>
<line x1="754.03" y1="223.7" x2="754.03" y2="356.3" stroke="#fafafb" stroke-width="1"/>
<line x1="769.94" y1="223.7" x2="769.94" y2="356.3" stroke="#fafafb" stroke-width="1"/>
<line x1="785.85" y1="223.7" x2="785.85" y2="356.3" stroke="#fafafb" stroke-width="1"/>
<line x1="54.3" y1="276.0" x2="791.3" y2="276.0" stroke="#e0e0e0" stroke-width="1" stroke-dasharray="4.5 2.5"/>
<line x1="54.3" y1="302.7" x2="791.3" y2="302.7" stroke="#e0e0e0" stroke-width="1" stroke-dasharray="4.5 2.5"/>
<line x1="54.3" y1="330.5" x2="791.3" y2="330.5" stroke="#e0e0e0" stroke-width="1" stroke-dasharray="4.5 2.5"/>
<line x1="51.80" y1="227.87" x2="54.3" y2="227.87" stroke="#777" stroke-width="1"/>
<line x1="51.80" y1="234.72" x2="54.3" y2="234.72" stroke="#777" stroke-width="1"/>
<line x1="51.80" y1="241.56" x2="54.3" y2="241.56" stroke="#777" stroke-width="1"/>
<line x1="51.80" y1="248.40" x2="54.3" y2="248.40" stroke="#777" stroke-width="1"/>
<line x1="51.80" y1="255.24" x2="54.3" y2="255.24" stroke="#777" stroke-width="1"/>
<line x1="51.80" y1="262.08" x2="54.3" y2="262.08" stroke="#777" stroke-width="1"/>
<line x1="51.80" y1="268.93" x2="54.3" y2="268.93" stroke="#777" stroke-width="1"/>
<line x1="51.80" y1="275.77" x2="54.3" y2="275.77" stroke="#777" stroke-width="1"/>
<line x1="51.80" y1="282.61" x2="54.3" y2="282.61" stroke="#777" stroke-width="1"/>
<line x1="51.80" y1="289.45" x2="54.3" y2="289.45" stroke="#777" stroke-width="1"/>
<line x1="51.80" y1="296.30" x2="54.3" y2="296.30" stroke="#777" stroke-width="1"/>
<line x1="51.80" y1="303.14" x2="54.3" y2="303.14" stroke="#777" stroke-width="1"/>
<line x1="51.80" y1="309.98" x2="54.3" y2="309.98" stroke="#777" stroke-width="1"/>
<line x1="51.80" y1="316.82" x2="54.3" y2="316.82" stroke="#777" stroke-width="1"/>
<line x1="51.80" y1="323.67" x2="54.3" y2="323.67" stroke="#777" stroke-width="1"/>
<line x1="51.80" y1="330.51" x2="54.3" y2="330.51" stroke="#777" stroke-width="1"/>
<line x1="51.80" y1="337.35" x2="54.3" y2="337.35" stroke="#777" stroke-width="1"/>
<line x1="51.80" y1="344.19" x2="54.3" y2="344.19" stroke="#777" stroke-width="1"/>
<line x1="51.80" y1="351.04" x2="54.3" y2="351.04" stroke="#777" stroke-width="1"/>
<line x1="49.3" y1="248.4" x2="54.3" y2="248.4" stroke="#777" stroke-width="1"/>
<line x1="49.3" y1="276.0" x2="54.3" y2="276.0" stroke="#777" stroke-width="1"/>
<line x1="49.3" y1="302.7" x2="54.3" y2="302.7" stroke="#777" stroke-width="1"/>
<line x1="49.3" y1="330.5" x2="54.3" y2="330.5" stroke="#777" stroke-width="1"/>
<line x1="54.3" y1="223.7" x2="54.3" y2="356.3" stroke="#666" stroke-width="1.3"/>
<line x1="54.3" y1="248.4" x2="791.3" y2="248.4" stroke="#153d26" stroke-width="1.35"/>
<rect x="23.7" y="237.5" width="30.60" height="20.70" fill="#fff" stroke="#17432a" stroke-width="1.4"/>
<text x="44.8" y="251.90" text-anchor="end" font-size="10" font-weight="bold" fill="#111" stroke="#111" stroke-width="0.3" textLength="15.2" lengthAdjust="spacingAndGlyphs">320</text>
<text x="44.8" y="279.50" text-anchor="end" font-size="10" font-weight="bold" fill="#111" stroke="#111" stroke-width="0.3" textLength="15.2" lengthAdjust="spacingAndGlyphs">310</text>
<text x="44.8" y="306.20" text-anchor="end" font-size="10" font-weight="bold" fill="#111" stroke="#111" stroke-width="0.3" textLength="15.2" lengthAdjust="spacingAndGlyphs">300</text>
<text x="44.8" y="334.00" text-anchor="end" font-size="10" font-weight="bold" fill="#111" stroke="#111" stroke-width="0.3" textLength="15.2" lengthAdjust="spacingAndGlyphs">290</text>
<line x1="791.3" y1="223.7" x2="791.3" y2="356.3" stroke="#f0c4f6" stroke-width="2.4"/>
<line x1="791.3" y1="223.7" x2="791.3" y2="356.3" stroke="#5a2a70" stroke-width="1.1"/>
<path d="M53.89 356.3 v3.6 M57.07 356.3 v3.6 M60.25 356.3 v3.6 M63.43 356.3 v3.6 M66.61 356.3 v3.6 M69.79 356.3 v3.6 M72.97 356.3 v3.6 M76.15 356.3 v3.6 M79.33 356.3 v3.6 M82.51 356.3 v3.6 M85.69 356.3 v3.6 M88.87 356.3 v3.6 M92.05 356.3 v3.6 M95.23 356.3 v3.6 M98.41 356.3 v3.6 M101.59 356.3 v3.6 M104.77 356.3 v3.6 M107.95 356.3 v3.6 M111.13 356.3 v3.6 M114.31 356.3 v3.6 M117.49 356.3 v3.6 M120.67 356.3 v3.6 M123.85 356.3 v3.6 M127.03 356.3 v3.6 M130.21 356.3 v3.6 M133.39 356.3 v3.6 M136.57 356.3 v3.6 M139.75 356.3 v3.6 M142.93 356.3 v3.6 M146.11 356.3 v3.6 M149.29 356.3 v3.6 M152.47 356.3 v3.6 M155.65 356.3 v3.6 M158.83 356.3 v3.6 M162.01 356.3 v3.6 M165.19 356.3 v3.6 M168.37 356.3 v3.6 M171.55 356.3 v3.6 M174.73 356.3 v3.6 M177.91 356.3 v3.6 M181.09 356.3 v3.6 M184.27 356.3 v3.6 M187.45 356.3 v3.6 M190.63 356.3 v3.6 M193.81 356.3 v3.6 M196.99 356.3 v3.6 M200.17 356.3 v3.6 M203.35 356.3 v3.6 M206.53 356.3 v3.6 M209.71 356.3 v3.6 M212.89 356.3 v3.6 M216.07 356.3 v3.6 M219.25 356.3 v3.6 M222.43 356.3 v3.6 M225.61 356.3 v3.6 M228.79 356.3 v3.6 M231.97 356.3 v3.6 M235.15 356.3 v3.6 M238.33 356.3 v3.6 M241.51 356.3 v3.6 M244.69 356.3 v3.6 M247.87 356.3 v3.6 M251.05 356.3 v3.6 M254.23 356.3 v3.6 M257.41 356.3 v3.6 M260.59 356.3 v3.6 M263.77 356.3 v3.6 M266.95 356.3 v3.6 M270.13 356.3 v3.6 M273.31 356.3 v3.6 M276.49 356.3 v3.6 M279.67 356.3 v3.6 M282.85 356.3 v3.6 M286.03 356.3 v3.6 M289.21 356.3 v3.6 M292.39 356.3 v3.6 M295.57 356.3 v3.6 M298.75 356.3 v3.6 M301.93 356.3 v3.6 M305.11 356.3 v3.6 M308.29 356.3 v3.6 M311.47 356.3 v3.6 M314.65 356.3 v3.6 M317.83 356.3 v3.6 M321.01 356.3 v3.6 M324.19 356.3 v3.6 M327.37 356.3 v3.6 M330.55 356.3 v3.6 M333.73 356.3 v3.6 M336.91 356.3 v3.6 M340.09 356.3 v3.6 M343.27 356.3 v3.6 M346.45 356.3 v3.6 M349.63 356.3 v3.6 M352.81 356.3 v3.6 M355.99 356.3 v3.6 M359.17 356.3 v3.6 M362.35 356.3 v3.6 M365.53 356.3 v3.6 M368.71 356.3 v3.6 M371.89 356.3 v3.6 M375.07 356.3 v3.6 M378.25 356.3 v3.6 M381.43 356.3 v3.6 M384.61 356.3 v3.6 M387.79 356.3 v3.6 M390.97 356.3 v3.6 M394.15 356.3 v3.6 M397.33 356.3 v3.6 M400.51 356.3 v3.6 M403.69 356.3 v3.6 M406.87 356.3 v3.6 M410.05 356.3 v3.6 M413.23 356.3 v3.6 M416.41 356.3 v3.6 M419.59 356.3 v3.6 M422.77 356.3 v3.6 M425.95 356.3 v3.6 M429.13 356.3 v3.6 M432.31 356.3 v3.6 M435.49 356.3 v3.6 M438.67 356.3 v3.6 M441.85 356.3 v3.6 M445.03 356.3 v3.6 M448.21 356.3 v3.6 M451.39 356.3 v3.6 M454.57 356.3 v3.6 M457.75 356.3 v3.6 M460.93 356.3 v3.6 M464.11 356.3 v3.6 M467.29 356.3 v3.6 M470.47 356.3 v3.6 M473.65 356.3 v3.6 M476.83 356.3 v3.6 M480.01 356.3 v3.6 M483.19 356.3 v3.6 M486.37 356.3 v3.6 M489.55 356.3 v3.6 M492.73 356.3 v3.6 M495.91 356.3 v3.6 M499.09 356.3 v3.6 M502.27 356.3 v3.6 M505.45 356.3 v3.6 M508.63 356.3 v3.6 M511.81 356.3 v3.6 M514.99 356.3 v3.6 M518.17 356.3 v3.6 M521.35 356.3 v3.6 M524.53 356.3 v3.6 M527.71 356.3 v3.6 M530.89 356.3 v3.6 M534.07 356.3 v3.6 M537.25 356.3 v3.6 M540.43 356.3 v3.6 M543.61 356.3 v3.6 M546.79 356.3 v3.6 M549.97 356.3 v3.6 M553.15 356.3 v3.6 M556.33 356.3 v3.6 M559.51 356.3 v3.6 M562.69 356.3 v3.6 M565.87 356.3 v3.6 M569.05 356.3 v3.6 M572.23 356.3 v3.6 M575.41 356.3 v3.6 M578.59 356.3 v3.6 M581.77 356.3 v3.6 M584.95 356.3 v3.6 M588.13 356.3 v3.6 M591.31 356.3 v3.6 M594.49 356.3 v3.6 M597.67 356.3 v3.6 M600.85 356.3 v3.6 M604.03 356.3 v3.6 M607.21 356.3 v3.6 M610.39 356.3 v3.6 M613.57 356.3 v3.6 M616.75 356.3 v3.6 M619.93 356.3 v3.6 M623.11 356.3 v3.6 M626.29 356.3 v3.6 M629.47 356.3 v3.6 M632.65 356.3 v3.6 M635.83 356.3 v3.6 M639.01 356.3 v3.6 M642.19 356.3 v3.6 M645.37 356.3 v3.6 M648.55 356.3 v3.6 M651.73 356.3 v3.6 M654.91 356.3 v3.6 M658.09 356.3 v3.6 M661.27 356.3 v3.6 M664.45 356.3 v3.6 M667.63 356.3 v3.6 M670.81 356.3 v3.6 M673.99 356.3 v3.6 M677.17 356.3 v3.6 M680.35 356.3 v3.6 M683.53 356.3 v3.6 M686.71 356.3 v3.6 M689.89 356.3 v3.6 M693.07 356.3 v3.6 M696.25 356.3 v3.6 M699.43 356.3 v3.6 M702.61 356.3 v3.6 M705.79 356.3 v3.6 M708.97 356.3 v3.6 M712.15 356.3 v3.6 M715.33 356.3 v3.6 M718.51 356.3 v3.6 M721.69 356.3 v3.6 M724.87 356.3 v3.6 M728.05 356.3 v3.6 M731.23 356.3 v3.6 M734.41 356.3 v3.6 M737.59 356.3 v3.6 M740.77 356.3 v3.6 M743.95 356.3 v3.6 M747.13 356.3 v3.6 M750.31 356.3 v3.6 M753.49 356.3 v3.6 M756.67 356.3 v3.6 M759.85 356.3 v3.6 M763.03 356.3 v3.6 M766.21 356.3 v3.6 M769.39 356.3 v3.6 M772.57 356.3 v3.6 M775.75 356.3 v3.6 M778.93 356.3 v3.6 M782.11 356.3 v3.6 M785.29 356.3 v3.6 M788.47 356.3 v3.6 M791.65 356.3 v3.6" stroke="#c4c4c4" stroke-width="1"/>
<path d="M53.89 355.8 v2.4 M57.07 355.8 v2.4 M60.25 355.8 v2.4 M63.43 355.8 v2.4 M66.61 355.8 v2.4 M69.79 355.8 v2.4 M72.97 355.8 v2.4 M76.15 355.8 v2.4 M79.33 355.8 v2.4 M82.51 355.8 v2.4 M85.69 355.8 v2.4 M88.87 355.8 v2.4 M92.05 355.8 v2.4 M95.23 355.8 v2.4 M98.41 355.8 v2.4 M101.59 355.8 v2.4 M104.77 355.8 v2.4 M107.95 355.8 v2.4 M111.13 355.8 v2.4 M114.31 355.8 v2.4 M117.49 355.8 v2.4 M120.67 355.8 v2.4 M123.85 355.8 v2.4 M127.03 355.8 v2.4 M130.21 355.8 v2.4 M133.39 355.8 v2.4 M136.57 355.8 v2.4 M139.75 355.8 v2.4 M142.93 355.8 v2.4 M146.11 355.8 v2.4 M149.29 355.8 v2.4 M152.47 355.8 v2.4 M155.65 355.8 v2.4 M158.83 355.8 v2.4 M162.01 355.8 v2.4 M165.19 355.8 v2.4 M168.37 355.8 v2.4 M171.55 355.8 v2.4 M174.73 355.8 v2.4 M177.91 355.8 v2.4 M181.09 355.8 v2.4 M184.27 355.8 v2.4 M187.45 355.8 v2.4 M190.63 355.8 v2.4 M193.81 355.8 v2.4 M196.99 355.8 v2.4 M200.17 355.8 v2.4 M203.35 355.8 v2.4 M206.53 355.8 v2.4 M209.71 355.8 v2.4 M212.89 355.8 v2.4 M216.07 355.8 v2.4 M219.25 355.8 v2.4 M222.43 355.8 v2.4 M225.61 355.8 v2.4 M228.79 355.8 v2.4 M231.97 355.8 v2.4 M235.15 355.8 v2.4 M238.33 355.8 v2.4 M241.51 355.8 v2.4 M244.69 355.8 v2.4 M247.87 355.8 v2.4 M251.05 355.8 v2.4 M254.23 355.8 v2.4 M257.41 355.8 v2.4 M260.59 355.8 v2.4 M263.77 355.8 v2.4 M266.95 355.8 v2.4 M270.13 355.8 v2.4 M273.31 355.8 v2.4 M276.49 355.8 v2.4 M279.67 355.8 v2.4 M282.85 355.8 v2.4 M286.03 355.8 v2.4 M289.21 355.8 v2.4 M292.39 355.8 v2.4 M295.57 355.8 v2.4 M298.75 355.8 v2.4 M301.93 355.8 v2.4 M305.11 355.8 v2.4 M308.29 355.8 v2.4 M311.47 355.8 v2.4 M314.65 355.8 v2.4 M317.83 355.8 v2.4 M321.01 355.8 v2.4 M324.19 355.8 v2.4 M327.37 355.8 v2.4 M330.55 355.8 v2.4 M333.73 355.8 v2.4 M336.91 355.8 v2.4 M340.09 355.8 v2.4 M343.27 355.8 v2.4 M346.45 355.8 v2.4 M349.63 355.8 v2.4 M352.81 355.8 v2.4 M355.99 355.8 v2.4 M359.17 355.8 v2.4 M362.35 355.8 v2.4 M365.53 355.8 v2.4 M368.71 355.8 v2.4 M371.89 355.8 v2.4 M375.07 355.8 v2.4 M378.25 355.8 v2.4 M381.43 355.8 v2.4 M384.61 355.8 v2.4 M387.79 355.8 v2.4 M390.97 355.8 v2.4 M394.15 355.8 v2.4 M397.33 355.8 v2.4 M400.51 355.8 v2.4 M403.69 355.8 v2.4 M406.87 355.8 v2.4 M410.05 355.8 v2.4 M413.23 355.8 v2.4 M416.41 355.8 v2.4 M419.59 355.8 v2.4 M422.77 355.8 v2.4 M425.95 355.8 v2.4 M429.13 355.8 v2.4 M432.31 355.8 v2.4 M435.49 355.8 v2.4 M438.67 355.8 v2.4 M441.85 355.8 v2.4 M445.03 355.8 v2.4 M448.21 355.8 v2.4 M451.39 355.8 v2.4 M454.57 355.8 v2.4 M457.75 355.8 v2.4 M460.93 355.8 v2.4 M464.11 355.8 v2.4 M467.29 355.8 v2.4 M470.47 355.8 v2.4 M473.65 355.8 v2.4 M476.83 355.8 v2.4 M480.01 355.8 v2.4 M483.19 355.8 v2.4 M486.37 355.8 v2.4 M489.55 355.8 v2.4 M492.73 355.8 v2.4 M495.91 355.8 v2.4 M499.09 355.8 v2.4 M502.27 355.8 v2.4 M505.45 355.8 v2.4 M508.63 355.8 v2.4 M511.81 355.8 v2.4 M514.99 355.8 v2.4 M518.17 355.8 v2.4 M521.35 355.8 v2.4 M524.53 355.8 v2.4 M527.71 355.8 v2.4 M530.89 355.8 v2.4 M534.07 355.8 v2.4 M537.25 355.8 v2.4 M540.43 355.8 v2.4 M543.61 355.8 v2.4 M546.79 355.8 v2.4 M549.97 355.8 v2.4 M553.15 355.8 v2.4 M556.33 355.8 v2.4 M559.51 355.8 v2.4 M562.69 355.8 v2.4 M565.87 355.8 v2.4 M569.05 355.8 v2.4 M572.23 355.8 v2.4 M575.41 355.8 v2.4 M578.59 355.8 v2.4 M581.77 355.8 v2.4 M584.95 355.8 v2.4 M588.13 355.8 v2.4 M591.31 355.8 v2.4 M594.49 355.8 v2.4 M597.67 355.8 v2.4 M600.85 355.8 v2.4 M604.03 355.8 v2.4 M607.21 355.8 v2.4 M610.39 355.8 v2.4 M613.57 355.8 v2.4 M616.75 355.8 v2.4 M619.93 355.8 v2.4 M623.11 355.8 v2.4 M626.29 355.8 v2.4 M629.47 355.8 v2.4 M632.65 355.8 v2.4 M635.83 355.8 v2.4 M639.01 355.8 v2.4 M642.19 355.8 v2.4 M645.37 355.8 v2.4 M648.55 355.8 v2.4 M651.73 355.8 v2.4 M654.91 355.8 v2.4 M658.09 355.8 v2.4 M661.27 355.8 v2.4 M664.45 355.8 v2.4 M667.63 355.8 v2.4 M670.81 355.8 v2.4 M673.99 355.8 v2.4 M677.17 355.8 v2.4 M680.35 355.8 v2.4 M683.53 355.8 v2.4 M686.71 355.8 v2.4 M689.89 355.8 v2.4 M693.07 355.8 v2.4 M696.25 355.8 v2.4 M699.43 355.8 v2.4 M702.61 355.8 v2.4 M705.79 355.8 v2.4 M708.97 355.8 v2.4 M712.15 355.8 v2.4 M715.33 355.8 v2.4 M718.51 355.8 v2.4 M721.69 355.8 v2.4 M724.87 355.8 v2.4 M728.05 355.8 v2.4 M731.23 355.8 v2.4 M734.41 355.8 v2.4 M737.59 355.8 v2.4 M740.77 355.8 v2.4 M743.95 355.8 v2.4 M747.13 355.8 v2.4 M750.31 355.8 v2.4 M753.49 355.8 v2.4 M756.67 355.8 v2.4 M759.85 355.8 v2.4 M763.03 355.8 v2.4 M766.21 355.8 v2.4 M769.39 355.8 v2.4 M772.57 355.8 v2.4 M775.75 355.8 v2.4 M778.93 355.8 v2.4 M782.11 355.8 v2.4 M785.29 355.8 v2.4 M788.47 355.8 v2.4 M791.65 355.8 v2.4" stroke="#111" stroke-width="1.3"/>
<line x1="53.3" y1="355.7" x2="793.8" y2="355.7" stroke="#444" stroke-width="1.2"/>
<text transform="translate(51.39,364.80) rotate(90)" font-size="9.7" font-weight="bold" fill="#000" stroke="#000" stroke-width="0.22" textLength="23.4" lengthAdjust="spacingAndGlyphs">20/01</text>
<text transform="translate(67.30,364.80) rotate(90)" font-size="9.7" font-weight="bold" fill="#000" stroke="#000" stroke-width="0.22" textLength="23.4" lengthAdjust="spacingAndGlyphs">27/01</text>
<text transform="translate(83.21,364.80) rotate(90)" font-size="9.7" font-weight="bold" fill="#000" stroke="#000" stroke-width="0.22" textLength="23.4" lengthAdjust="spacingAndGlyphs">03/02</text>
<text transform="translate(99.13,364.80) rotate(90)" font-size="9.7" font-weight="bold" fill="#000" stroke="#000" stroke-width="0.22" textLength="23.4" lengthAdjust="spacingAndGlyphs">10/02</text>
<text transform="translate(115.04,364.80) rotate(90)" font-size="9.7" font-weight="bold" fill="#000" stroke="#000" stroke-width="0.22" textLength="23.4" lengthAdjust="spacingAndGlyphs">17/02</text>
<text transform="translate(130.95,364.80) rotate(90)" font-size="9.7" font-weight="bold" fill="#000" stroke="#000" stroke-width="0.22" textLength="23.4" lengthAdjust="spacingAndGlyphs">24/02</text>
<text transform="translate(146.86,364.80) rotate(90)" font-size="9.7" font-weight="bold" fill="#000" stroke="#000" stroke-width="0.22" textLength="23.4" lengthAdjust="spacingAndGlyphs">03/03</text>
<text transform="translate(162.78,364.80) rotate(90)" font-size="9.7" font-weight="bold" fill="#000" stroke="#000" stroke-width="0.22" textLength="23.4" lengthAdjust="spacingAndGlyphs">10/03</text>
<text transform="translate(178.69,364.80) rotate(90)" font-size="9.7" font-weight="bold" fill="#000" stroke="#000" stroke-width="0.22" textLength="23.4" lengthAdjust="spacingAndGlyphs">17/03</text>
<text transform="translate(194.60,364.80) rotate(90)" font-size="9.7" font-weight="bold" fill="#000" stroke="#000" stroke-width="0.22" textLength="23.4" lengthAdjust="spacingAndGlyphs">24/03</text>
<text transform="translate(210.51,364.80) rotate(90)" font-size="9.7" font-weight="bold" fill="#000" stroke="#000" stroke-width="0.22" textLength="23.4" lengthAdjust="spacingAndGlyphs">31/03</text>
<text transform="translate(226.42,364.80) rotate(90)" font-size="9.7" font-weight="bold" fill="#000" stroke="#000" stroke-width="0.22" textLength="23.4" lengthAdjust="spacingAndGlyphs">07/04</text>
<text transform="translate(242.34,364.80) rotate(90)" font-size="9.7" font-weight="bold" fill="#000" stroke="#000" stroke-width="0.22" textLength="23.4" lengthAdjust="spacingAndGlyphs">14/04</text>
<text transform="translate(258.25,364.80) rotate(90)" font-size="9.7" font-weight="bold" fill="#000" stroke="#000" stroke-width="0.22" textLength="23.4" lengthAdjust="spacingAndGlyphs">21/04</text>
<text transform="translate(274.16,364.80) rotate(90)" font-size="9.7" font-weight="bold" fill="#000" stroke="#000" stroke-width="0.22" textLength="23.4" lengthAdjust="spacingAndGlyphs">28/04</text>
<text transform="translate(290.07,364.80) rotate(90)" font-size="9.7" font-weight="bold" fill="#000" stroke="#000" stroke-width="0.22" textLength="23.4" lengthAdjust="spacingAndGlyphs">05/05</text>
<text transform="translate(305.98,364.80) rotate(90)" font-size="9.7" font-weight="bold" fill="#000" stroke="#000" stroke-width="0.22" textLength="23.4" lengthAdjust="spacingAndGlyphs">12/05</text>
<text transform="translate(321.90,364.80) rotate(90)" font-size="9.7" font-weight="bold" fill="#000" stroke="#000" stroke-width="0.22" textLength="23.4" lengthAdjust="spacingAndGlyphs">19/05</text>
<text transform="translate(337.81,364.80) rotate(90)" font-size="9.7" font-weight="bold" fill="#000" stroke="#000" stroke-width="0.22" textLength="23.4" lengthAdjust="spacingAndGlyphs">26/05</text>
<text transform="translate(353.72,364.80) rotate(90)" font-size="9.7" font-weight="bold" fill="#000" stroke="#000" stroke-width="0.22" textLength="23.4" lengthAdjust="spacingAndGlyphs">02/06</text>
<text transform="translate(369.63,364.80) rotate(90)" font-size="9.7" font-weight="bold" fill="#000" stroke="#000" stroke-width="0.22" textLength="23.4" lengthAdjust="spacingAndGlyphs">09/06</text>
<text transform="translate(385.55,364.80) rotate(90)" font-size="9.7" font-weight="bold" fill="#000" stroke="#000" stroke-width="0.22" textLength="23.4" lengthAdjust="spacingAndGlyphs">16/06</text>
<text transform="translate(401.46,364.80) rotate(90)" font-size="9.7" font-weight="bold" fill="#000" stroke="#000" stroke-width="0.22" textLength="23.4" lengthAdjust="spacingAndGlyphs">23/06</text>
<text transform="translate(417.37,364.80) rotate(90)" font-size="9.7" font-weight="bold" fill="#000" stroke="#000" stroke-width="0.22" textLength="23.4" lengthAdjust="spacingAndGlyphs">30/06</text>
<text transform="translate(433.28,364.80) rotate(90)" font-size="9.7" font-weight="bold" fill="#000" stroke="#000" stroke-width="0.22" textLength="23.4" lengthAdjust="spacingAndGlyphs">07/07</text>
<text transform="translate(449.19,364.80) rotate(90)" font-size="9.7" font-weight="bold" fill="#000" stroke="#000" stroke-width="0.22" textLength="23.4" lengthAdjust="spacingAndGlyphs">14/07</text>
<text transform="translate(465.11,364.80) rotate(90)" font-size="9.7" font-weight="bold" fill="#000" stroke="#000" stroke-width="0.22" textLength="23.4" lengthAdjust="spacingAndGlyphs">21/07</text>
<text transform="translate(481.02,364.80) rotate(90)" font-size="9.7" font-weight="bold" fill="#000" stroke="#000" stroke-width="0.22" textLength="23.4" lengthAdjust="spacingAndGlyphs">28/07</text>
<text transform="translate(496.93,364.80) rotate(90)" font-size="9.7" font-weight="bold" fill="#000" stroke="#000" stroke-width="0.22" textLength="23.4" lengthAdjust="spacingAndGlyphs">04/08</text>
<text transform="translate(512.84,364.80) rotate(90)" font-size="9.7" font-weight="bold" fill="#000" stroke="#000" stroke-width="0.22" textLength="23.4" lengthAdjust="spacingAndGlyphs">11/08</text>
<text transform="translate(528.76,364.80) rotate(90)" font-size="9.7" font-weight="bold" fill="#000" stroke="#000" stroke-width="0.22" textLength="23.4" lengthAdjust="spacingAndGlyphs">18/08</text>
<text transform="translate(544.67,364.80) rotate(90)" font-size="9.7" font-weight="bold" fill="#000" stroke="#000" stroke-width="0.22" textLength="23.4" lengthAdjust="spacingAndGlyphs">25/08</text>
<text transform="translate(560.58,364.80) rotate(90)" font-size="9.7" font-weight="bold" fill="#000" stroke="#000" stroke-width="0.22" textLength="23.4" lengthAdjust="spacingAndGlyphs">01/09</text>
<text transform="translate(576.49,364.80) rotate(90)" font-size="9.7" font-weight="bold" fill="#000" stroke="#000" stroke-width="0.22" textLength="23.4" lengthAdjust="spacingAndGlyphs">08/09</text>
<text transform="translate(592.40,364.80) rotate(90)" font-size="9.7" font-weight="bold" fill="#000" stroke="#000" stroke-width="0.22" textLength="23.4" lengthAdjust="spacingAndGlyphs">15/09</text>
<text transform="translate(608.32,364.80) rotate(90)" font-size="9.7" font-weight="bold" fill="#000" stroke="#000" stroke-width="0.22" textLength="23.4" lengthAdjust="spacingAndGlyphs">22/09</text>
<text transform="translate(624.23,364.80) rotate(90)" font-size="9.7" font-weight="bold" fill="#000" stroke="#000" stroke-width="0.22" textLength="23.4" lengthAdjust="spacingAndGlyphs">29/09</text>
<text transform="translate(640.14,364.80) rotate(90)" font-size="9.7" font-weight="bold" fill="#000" stroke="#000" stroke-width="0.22" textLength="23.4" lengthAdjust="spacingAndGlyphs">06/10</text>
<text transform="translate(656.05,364.80) rotate(90)" font-size="9.7" font-weight="bold" fill="#000" stroke="#000" stroke-width="0.22" textLength="23.4" lengthAdjust="spacingAndGlyphs">13/10</text>
<text transform="translate(671.96,364.80) rotate(90)" font-size="9.7" font-weight="bold" fill="#000" stroke="#000" stroke-width="0.22" textLength="23.4" lengthAdjust="spacingAndGlyphs">20/10</text>
<text transform="translate(687.88,364.80) rotate(90)" font-size="9.7" font-weight="bold" fill="#000" stroke="#000" stroke-width="0.22" textLength="23.4" lengthAdjust="spacingAndGlyphs">27/10</text>
<text transform="translate(703.79,364.80) rotate(90)" font-size="9.7" font-weight="bold" fill="#000" stroke="#000" stroke-width="0.22" textLength="23.4" lengthAdjust="spacingAndGlyphs">03/11</text>
<text transform="translate(719.70,364.80) rotate(90)" font-size="9.7" font-weight="bold" fill="#000" stroke="#000" stroke-width="0.22" textLength="23.4" lengthAdjust="spacingAndGlyphs">10/11</text>
<text transform="translate(735.61,364.80) rotate(90)" font-size="9.7" font-weight="bold" fill="#000" stroke="#000" stroke-width="0.22" textLength="23.4" lengthAdjust="spacingAndGlyphs">17/11</text>
<text transform="translate(751.53,364.80) rotate(90)" font-size="9.7" font-weight="bold" fill="#000" stroke="#000" stroke-width="0.22" textLength="23.4" lengthAdjust="spacingAndGlyphs">24/11</text>
<text transform="translate(767.44,364.80) rotate(90)" font-size="9.7" font-weight="bold" fill="#000" stroke="#000" stroke-width="0.22" textLength="23.4" lengthAdjust="spacingAndGlyphs">01/12</text>
<text transform="translate(783.35,364.80) rotate(90)" font-size="9.7" font-weight="bold" fill="#000" stroke="#000" stroke-width="0.22" textLength="23.4" lengthAdjust="spacingAndGlyphs">08/12</text>
<polyline points="54.30,248.35 57.90,273.40 60.85,303.00 63.80,304.60 67.35,295.10 70.70,308.90 73.70,330.60 77.00,344.00 82.50,341.40 86.50,336.10 93.40,329.60 99.30,319.75 102.30,325.70 108.20,315.80 117.10,316.80 121.40,319.20 125.00,313.80 129.90,310.50 133.80,302.00 136.80,303.00 140.70,305.90 146.65,300.00 150.60,303.00 156.50,294.10 159.50,293.50 163.40,290.75 166.40,292.10 170.30,287.60 174.25,287.20 177.20,286.20 181.60,286.60 185.20,293.20 189.00,289.40 192.30,289.60 195.60,288.30 200.50,290.80 204.30,301.50 207.10,300.60 210.40,309.20 214.00,284.50 223.50,291.60 226.80,287.10 230.10,289.10 232.90,285.50 239.20,294.90 242.50,288.30 247.40,285.00 252.30,275.10 258.10,262.50 261.40,259.50 264.70,249.30 267.60,253.20 270.90,250.10 274.60,256.50 280.30,259.20 283.60,257.00 286.90,257.50 290.20,251.60 293.50,249.30 299.60,234.80 303.45,243.70 305.75,236.40 309.20,236.80 312.00,257.50 315.00,253.40 318.40,253.40 321.90,251.10 325.30,267.20 331.10,262.10 341.40,270.20 344.90,265.10 347.90,269.50 351.80,266.70 359.80,266.30 366.70,254.10 371.30,254.10 375.90,252.90 379.40,260.30 382.80,286.30 388.60,301.20 392.00,333.00 394.80,300.80 407.00,312.30 410.90,325.40 414.40,313.90 417.35,326.10 420.80,302.40 424.25,302.40 429.90,289.00 433.30,309.70 436.80,303.20 439.80,302.80 448.70,294.00 452.60,280.75 458.10,285.10 461.90,303.20 465.40,279.20 468.80,277.20 472.30,284.10 475.30,283.50 482.20,275.20 487.70,265.00 491.10,267.30 494.00,262.40 497.00,270.90 503.90,263.00 506.30,261.80 509.80,265.80 516.70,256.50 521.60,254.50 528.60,251.20 532.50,252.50 538.40,267.30 544.90,256.50 548.90,248.20 552.40,249.25 556.50,257.40 560.60,263.10 563.80,270.00 569.80,256.60 573.60,262.60 576.80,265.50 579.60,263.90 583.30,267.45 585.75,266.30 589.00,257.00 592.60,254.90 595.50,254.45 598.40,250.50 601.70,253.30 604.90,263.10 608.50,257.00 612.60,255.75 616.60,252.20 620.70,248.40 623.90,253.30 627.20,250.10 630.40,252.20 633.70,252.20 636.90,256.10 640.20,251.20 643.40,253.30 646.70,248.90 655.60,263.90 658.10,262.60 662.10,256.60 671.10,251.20 674.90,243.10 677.30,250.90 681.00,253.80 685.00,244.40 687.50,248.90 690.30,247.30 694.40,250.10 700.10,253.80 703.30,248.90 709.00,259.00 716.30,273.90 719.60,263.90 726.10,254.90 730.10,247.60 732.60,247.30 735.00,249.60 738.60,243.10 741.50,249.60 745.10,242.75 749.60,244.00 754.50,242.75 759.40,245.20 763.40,254.10 767.20,266.30 770.75,254.10 774.00,248.90 778.10,250.55 783.75,252.50 788.60,245.20 791.50,243.10" fill="none" stroke="#f08038" stroke-opacity="0.4" stroke-width="2.5" stroke-linejoin="round" stroke-linecap="round"/>
<polyline points="54.30,248.35 57.90,273.40 60.85,303.00 63.80,304.60 67.35,295.10 70.70,308.90 73.70,330.60 77.00,344.00 82.50,341.40 86.50,336.10 93.40,329.60 99.30,319.75 102.30,325.70 108.20,315.80 117.10,316.80 121.40,319.20 125.00,313.80 129.90,310.50 133.80,302.00 136.80,303.00 140.70,305.90 146.65,300.00 150.60,303.00 156.50,294.10 159.50,293.50 163.40,290.75 166.40,292.10 170.30,287.60 174.25,287.20 177.20,286.20 181.60,286.60 185.20,293.20 189.00,289.40 192.30,289.60 195.60,288.30 200.50,290.80 204.30,301.50 207.10,300.60 210.40,309.20 214.00,284.50 223.50,291.60 226.80,287.10 230.10,289.10 232.90,285.50 239.20,294.90 242.50,288.30 247.40,285.00 252.30,275.10 258.10,262.50 261.40,259.50 264.70,249.30 267.60,253.20 270.90,250.10 274.60,256.50 280.30,259.20 283.60,257.00 286.90,257.50 290.20,251.60 293.50,249.30 299.60,234.80 303.45,243.70 305.75,236.40 309.20,236.80 312.00,257.50 315.00,253.40 318.40,253.40 321.90,251.10 325.30,267.20 331.10,262.10 341.40,270.20 344.90,265.10 347.90,269.50 351.80,266.70 359.80,266.30 366.70,254.10 371.30,254.10 375.90,252.90 379.40,260.30 382.80,286.30 388.60,301.20 392.00,333.00 394.80,300.80 407.00,312.30 410.90,325.40 414.40,313.90 417.35,326.10 420.80,302.40 424.25,302.40 429.90,289.00 433.30,309.70 436.80,303.20 439.80,302.80 448.70,294.00 452.60,280.75 458.10,285.10 461.90,303.20 465.40,279.20 468.80,277.20 472.30,284.10 475.30,283.50 482.20,275.20 487.70,265.00 491.10,267.30 494.00,262.40 497.00,270.90 503.90,263.00 506.30,261.80 509.80,265.80 516.70,256.50 521.60,254.50 528.60,251.20 532.50,252.50 538.40,267.30 544.90,256.50 548.90,248.20 552.40,249.25 556.50,257.40 560.60,263.10 563.80,270.00 569.80,256.60 573.60,262.60 576.80,265.50 579.60,263.90 583.30,267.45 585.75,266.30 589.00,257.00 592.60,254.90 595.50,254.45 598.40,250.50 601.70,253.30 604.90,263.10 608.50,257.00 612.60,255.75 616.60,252.20 620.70,248.40 623.90,253.30 627.20,250.10 630.40,252.20 633.70,252.20 636.90,256.10 640.20,251.20 643.40,253.30 646.70,248.90 655.60,263.90 658.10,262.60 662.10,256.60 671.10,251.20 674.90,243.10 677.30,250.90 681.00,253.80 685.00,244.40 687.50,248.90 690.30,247.30 694.40,250.10 700.10,253.80 703.30,248.90 709.00,259.00 716.30,273.90 719.60,263.90 726.10,254.90 730.10,247.60 732.60,247.30 735.00,249.60 738.60,243.10 741.50,249.60 745.10,242.75 749.60,244.00 754.50,242.75 759.40,245.20 763.40,254.10 767.20,266.30 770.75,254.10 774.00,248.90 778.10,250.55 783.75,252.50 788.60,245.20 791.50,243.10" fill="none" stroke="#8a2400" stroke-width="1.15" stroke-linejoin="round" stroke-linecap="round"/>
<line x1="788.8" y1="243.0" x2="793.8" y2="243.0" stroke="#c01830" stroke-width="1.1"/>
<text x="343" y="220.5" font-size="13.2" font-weight="bold" fill="#000" stroke="#000" stroke-width="0.45" textLength="155" lengthAdjust="spacingAndGlyphs">FUTURO SOJA MAYO 2022</text>
<text transform="translate(17.80,359.50) rotate(-90)" font-size="11" fill="#333" textLength="103.0" lengthAdjust="spacingAndGlyphs">Evolución de precios</text>
<rect x="634.2" y="292.9" width="146.00" height="38.10" fill="#a8a8a8" opacity="0.8" filter="url(#sh)"/>
<rect x="634.2" y="297.4" width="146.00" height="28.60" fill="#fff" stroke="#606060" stroke-width="1"/>
<rect x="643.8" y="306.8" width="13.30" height="10.40" fill="#f00000" stroke="#b00000" stroke-width="0.8"/>
<text x="661.6" y="317.1" font-size="16" fill="#111" stroke="#111" stroke-width="0.5" textLength="108.7" lengthAdjust="spacingAndGlyphs">10/12/2021 : 322</text>
<line x1="68.12" y1="427.4" x2="68.12" y2="560.2" stroke="#fafafb" stroke-width="1"/>
<line x1="82.38" y1="427.4" x2="82.38" y2="560.2" stroke="#fafafb" stroke-width="1"/>
<line x1="96.63" y1="427.4" x2="96.63" y2="560.2" stroke="#fafafb" stroke-width="1"/>
<line x1="110.89" y1="427.4" x2="110.89" y2="560.2" stroke="#fafafb" stroke-width="1"/>
<line x1="125.14" y1="427.4" x2="125.14" y2="560.2" stroke="#fafafb" stroke-width="1"/>
<line x1="139.40" y1="427.4" x2="139.40" y2="560.2" stroke="#fafafb" stroke-width="1"/>
<line x1="153.65" y1="427.4" x2="153.65" y2="560.2" stroke="#fafafb" stroke-width="1"/>
<line x1="167.90" y1="427.4" x2="167.90" y2="560.2" stroke="#fafafb" stroke-width="1"/>
<line x1="182.16" y1="427.4" x2="182.16" y2="560.2" stroke="#fafafb" stroke-width="1"/>
<line x1="196.41" y1="427.4" x2="196.41" y2="560.2" stroke="#fafafb" stroke-width="1"/>
<line x1="210.67" y1="427.4" x2="210.67" y2="560.2" stroke="#fafafb" stroke-width="1"/>
<line x1="224.92" y1="427.4" x2="224.92" y2="560.2" stroke="#fafafb" stroke-width="1"/>
<line x1="239.18" y1="427.4" x2="239.18" y2="560.2" stroke="#fafafb" stroke-width="1"/>
<line x1="253.43" y1="427.4" x2="253.43" y2="560.2" stroke="#fafafb" stroke-width="1"/>
<line x1="267.68" y1="427.4" x2="267.68" y2="560.2" stroke="#fafafb" stroke-width="1"/>
<line x1="281.94" y1="427.4" x2="281.94" y2="560.2" stroke="#fafafb" stroke-width="1"/>
<line x1="296.19" y1="427.4" x2="296.19" y2="560.2" stroke="#fafafb" stroke-width="1"/>
<line x1="310.45" y1="427.4" x2="310.45" y2="560.2" stroke="#fafafb" stroke-width="1"/>
<line x1="324.70" y1="427.4" x2="324.70" y2="560.2" stroke="#fafafb" stroke-width="1"/>
<line x1="338.96" y1="427.4" x2="338.96" y2="560.2" stroke="#fafafb" stroke-width="1"/>
<line x1="353.21" y1="427.4" x2="353.21" y2="560.2" stroke="#fafafb" stroke-width="1"/>
<line x1="367.46" y1="427.4" x2="367.46" y2="560.2" stroke="#fafafb" stroke-width="1"/>
<line x1="381.72" y1="427.4" x2="381.72" y2="560.2" stroke="#fafafb" stroke-width="1"/>
<line x1="395.97" y1="427.4" x2="395.97" y2="560.2" stroke="#fafafb" stroke-width="1"/>
<line x1="410.23" y1="427.4" x2="410.23" y2="560.2" stroke="#fafafb" stroke-width="1"/>
<line x1="424.48" y1="427.4" x2="424.48" y2="560.2" stroke="#fafafb" stroke-width="1"/>
<line x1="438.74" y1="427.4" x2="438.74" y2="560.2" stroke="#fafafb" stroke-width="1"/>
<line x1="452.99" y1="427.4" x2="452.99" y2="560.2" stroke="#fafafb" stroke-width="1"/>
<line x1="467.25" y1="427.4" x2="467.25" y2="560.2" stroke="#fafafb" stroke-width="1"/>
<line x1="481.50" y1="427.4" x2="481.50" y2="560.2" stroke="#fafafb" stroke-width="1"/>
<line x1="495.75" y1="427.4" x2="495.75" y2="560.2" stroke="#fafafb" stroke-width="1"/>
<line x1="510.01" y1="427.4" x2="510.01" y2="560.2" stroke="#fafafb" stroke-width="1"/>
<line x1="524.26" y1="427.4" x2="524.26" y2="560.2" stroke="#fafafb" stroke-width="1"/>
<line x1="538.52" y1="427.4" x2="538.52" y2="560.2" stroke="#fafafb" stroke-width="1"/>
<line x1="552.77" y1="427.4" x2="552.77" y2="560.2" stroke="#fafafb" stroke-width="1"/>
<line x1="567.03" y1="427.4" x2="567.03" y2="560.2" stroke="#fafafb" stroke-width="1"/>
<line x1="581.28" y1="427.4" x2="581.28" y2="560.2" stroke="#fafafb" stroke-width="1"/>
<line x1="595.53" y1="427.4" x2="595.53" y2="560.2" stroke="#fafafb" stroke-width="1"/>
<line x1="609.79" y1="427.4" x2="609.79" y2="560.2" stroke="#fafafb" stroke-width="1"/>
<line x1="624.04" y1="427.4" x2="624.04" y2="560.2" stroke="#fafafb" stroke-width="1"/>
<line x1="638.30" y1="427.4" x2="638.30" y2="560.2" stroke="#fafafb" stroke-width="1"/>
<line x1="652.55" y1="427.4" x2="652.55" y2="560.2" stroke="#fafafb" stroke-width="1"/>
<line x1="666.81" y1="427.4" x2="666.81" y2="560.2" stroke="#fafafb" stroke-width="1"/>
<line x1="681.06" y1="427.4" x2="681.06" y2="560.2" stroke="#fafafb" stroke-width="1"/>
<line x1="695.31" y1="427.4" x2="695.31" y2="560.2" stroke="#fafafb" stroke-width="1"/>
<line x1="709.57" y1="427.4" x2="709.57" y2="560.2" stroke="#fafafb" stroke-width="1"/>
<line x1="723.82" y1="427.4" x2="723.82" y2="560.2" stroke="#fafafb" stroke-width="1"/>
<line x1="738.08" y1="427.4" x2="738.08" y2="560.2" stroke="#fafafb" stroke-width="1"/>
<line x1="752.33" y1="427.4" x2="752.33" y2="560.2" stroke="#fafafb" stroke-width="1"/>
<line x1="766.59" y1="427.4" x2="766.59" y2="560.2" stroke="#fafafb" stroke-width="1"/>
<line x1="780.84" y1="427.4" x2="780.84" y2="560.2" stroke="#fafafb" stroke-width="1"/>
<line x1="53.9" y1="457.2" x2="791.5" y2="457.2" stroke="#e0e0e0" stroke-width="1" stroke-dasharray="4.5 2.5"/>
<line x1="53.9" y1="517.7" x2="791.5" y2="517.7" stroke="#e0e0e0" stroke-width="1" stroke-dasharray="4.5 2.5"/>
<line x1="53.9" y1="548.3" x2="791.5" y2="548.3" stroke="#e0e0e0" stroke-width="1" stroke-dasharray="4.5 2.5"/>
<line x1="51.40" y1="436.95" x2="53.9" y2="436.95" stroke="#777" stroke-width="1"/>
<line x1="51.40" y1="447.08" x2="53.9" y2="447.08" stroke="#777" stroke-width="1"/>
<line x1="51.40" y1="457.20" x2="53.9" y2="457.20" stroke="#777" stroke-width="1"/>
<line x1="51.40" y1="467.32" x2="53.9" y2="467.32" stroke="#777" stroke-width="1"/>
<line x1="51.40" y1="477.45" x2="53.9" y2="477.45" stroke="#777" stroke-width="1"/>
<line x1="51.40" y1="487.57" x2="53.9" y2="487.57" stroke="#777" stroke-width="1"/>
<line x1="51.40" y1="497.69" x2="53.9" y2="497.69" stroke="#777" stroke-width="1"/>
<line x1="51.40" y1="507.82" x2="53.9" y2="507.82" stroke="#777" stroke-width="1"/>
<line x1="51.40" y1="517.94" x2="53.9" y2="517.94" stroke="#777" stroke-width="1"/>
<line x1="51.40" y1="528.06" x2="53.9" y2="528.06" stroke="#777" stroke-width="1"/>
<line x1="51.40" y1="538.19" x2="53.9" y2="538.19" stroke="#777" stroke-width="1"/>
<line x1="51.40" y1="548.31" x2="53.9" y2="548.31" stroke="#777" stroke-width="1"/>
<line x1="51.40" y1="558.43" x2="53.9" y2="558.43" stroke="#777" stroke-width="1"/>
<line x1="48.9" y1="457.2" x2="53.9" y2="457.2" stroke="#777" stroke-width="1"/>
<line x1="48.9" y1="487.5" x2="53.9" y2="487.5" stroke="#777" stroke-width="1"/>
<line x1="48.9" y1="517.7" x2="53.9" y2="517.7" stroke="#777" stroke-width="1"/>
<line x1="48.9" y1="548.3" x2="53.9" y2="548.3" stroke="#777" stroke-width="1"/>
<line x1="53.9" y1="427.4" x2="53.9" y2="560.2" stroke="#666" stroke-width="1.3"/>
<line x1="53.9" y1="487.5" x2="791.5" y2="487.5" stroke="#153d26" stroke-width="1.35"/>
<rect x="21.3" y="477.4" width="32.40" height="17.90" fill="#fff" stroke="#17432a" stroke-width="1.4"/>
<text x="44.0" y="460.70" text-anchor="end" font-size="10" font-weight="bold" fill="#111" stroke="#111" stroke-width="0.3" textLength="15.2" lengthAdjust="spacingAndGlyphs">190</text>
<text x="44.0" y="491.00" text-anchor="end" font-size="10" font-weight="bold" fill="#111" stroke="#111" stroke-width="0.3" textLength="15.2" lengthAdjust="spacingAndGlyphs">180</text>
<text x="44.0" y="521.20" text-anchor="end" font-size="10" font-weight="bold" fill="#111" stroke="#111" stroke-width="0.3" textLength="15.2" lengthAdjust="spacingAndGlyphs">170</text>
<text x="44.0" y="551.80" text-anchor="end" font-size="10" font-weight="bold" fill="#111" stroke="#111" stroke-width="0.3" textLength="15.2" lengthAdjust="spacingAndGlyphs">160</text>
<line x1="791.5" y1="427.4" x2="791.5" y2="560.2" stroke="#f0c4f6" stroke-width="2.4"/>
<line x1="791.5" y1="427.4" x2="791.5" y2="560.2" stroke="#5a2a70" stroke-width="1.1"/>
<path d="M53.87 560.2 v3.6 M57.43 560.2 v3.6 M60.99 560.2 v3.6 M64.55 560.2 v3.6 M68.11 560.2 v3.6 M71.67 560.2 v3.6 M75.23 560.2 v3.6 M78.79 560.2 v3.6 M82.35 560.2 v3.6 M85.91 560.2 v3.6 M89.47 560.2 v3.6 M93.03 560.2 v3.6 M96.59 560.2 v3.6 M100.15 560.2 v3.6 M103.71 560.2 v3.6 M107.27 560.2 v3.6 M110.83 560.2 v3.6 M114.39 560.2 v3.6 M117.95 560.2 v3.6 M121.51 560.2 v3.6 M125.07 560.2 v3.6 M128.63 560.2 v3.6 M132.19 560.2 v3.6 M135.75 560.2 v3.6 M139.31 560.2 v3.6 M142.87 560.2 v3.6 M146.43 560.2 v3.6 M149.99 560.2 v3.6 M153.55 560.2 v3.6 M157.11 560.2 v3.6 M160.67 560.2 v3.6 M164.23 560.2 v3.6 M167.79 560.2 v3.6 M171.35 560.2 v3.6 M174.91 560.2 v3.6 M178.47 560.2 v3.6 M182.03 560.2 v3.6 M185.59 560.2 v3.6 M189.15 560.2 v3.6 M192.71 560.2 v3.6 M196.27 560.2 v3.6 M199.83 560.2 v3.6 M203.39 560.2 v3.6 M206.95 560.2 v3.6 M210.51 560.2 v3.6 M214.07 560.2 v3.6 M217.63 560.2 v3.6 M221.19 560.2 v3.6 M224.75 560.2 v3.6 M228.31 560.2 v3.6 M231.87 560.2 v3.6 M235.43 560.2 v3.6 M238.99 560.2 v3.6 M242.55 560.2 v3.6 M246.11 560.2 v3.6 M249.67 560.2 v3.6 M253.23 560.2 v3.6 M256.79 560.2 v3.6 M260.35 560.2 v3.6 M263.91 560.2 v3.6 M267.47 560.2 v3.6 M271.03 560.2 v3.6 M274.59 560.2 v3.6 M278.15 560.2 v3.6 M281.71 560.2 v3.6 M285.27 560.2 v3.6 M288.83 560.2 v3.6 M292.39 560.2 v3.6 M295.95 560.2 v3.6 M299.51 560.2 v3.6 M303.07 560.2 v3.6 M306.63 560.2 v3.6 M310.19 560.2 v3.6 M313.75 560.2 v3.6 M317.31 560.2 v3.6 M320.87 560.2 v3.6 M324.43 560.2 v3.6 M327.99 560.2 v3.6 M331.55 560.2 v3.6 M335.11 560.2 v3.6 M338.67 560.2 v3.6 M342.23 560.2 v3.6 M345.79 560.2 v3.6 M349.35 560.2 v3.6 M352.91 560.2 v3.6 M356.47 560.2 v3.6 M360.03 560.2 v3.6 M363.59 560.2 v3.6 M367.15 560.2 v3.6 M370.71 560.2 v3.6 M374.27 560.2 v3.6 M377.83 560.2 v3.6 M381.39 560.2 v3.6 M384.95 560.2 v3.6 M388.51 560.2 v3.6 M392.07 560.2 v3.6 M395.63 560.2 v3.6 M399.19 560.2 v3.6 M402.75 560.2 v3.6 M406.31 560.2 v3.6 M409.87 560.2 v3.6 M413.43 560.2 v3.6 M416.99 560.2 v3.6 M420.55 560.2 v3.6 M424.11 560.2 v3.6 M427.67 560.2 v3.6 M431.23 560.2 v3.6 M434.79 560.2 v3.6 M438.35 560.2 v3.6 M441.91 560.2 v3.6 M445.47 560.2 v3.6 M449.03 560.2 v3.6 M452.59 560.2 v3.6 M456.15 560.2 v3.6 M459.71 560.2 v3.6 M463.27 560.2 v3.6 M466.83 560.2 v3.6 M470.39 560.2 v3.6 M473.95 560.2 v3.6 M477.51 560.2 v3.6 M481.07 560.2 v3.6 M484.63 560.2 v3.6 M488.19 560.2 v3.6 M491.75 560.2 v3.6 M495.31 560.2 v3.6 M498.87 560.2 v3.6 M502.43 560.2 v3.6 M505.99 560.2 v3.6 M509.55 560.2 v3.6 M513.11 560.2 v3.6 M516.67 560.2 v3.6 M520.23 560.2 v3.6 M523.79 560.2 v3.6 M527.35 560.2 v3.6 M530.91 560.2 v3.6 M534.47 560.2 v3.6 M538.03 560.2 v3.6 M541.59 560.2 v3.6 M545.15 560.2 v3.6 M548.71 560.2 v3.6 M552.27 560.2 v3.6 M555.83 560.2 v3.6 M559.39 560.2 v3.6 M562.95 560.2 v3.6 M566.51 560.2 v3.6 M570.07 560.2 v3.6 M573.63 560.2 v3.6 M577.19 560.2 v3.6 M580.75 560.2 v3.6 M584.31 560.2 v3.6 M587.87 560.2 v3.6 M591.43 560.2 v3.6 M594.99 560.2 v3.6 M598.55 560.2 v3.6 M602.11 560.2 v3.6 M605.67 560.2 v3.6 M609.23 560.2 v3.6 M612.79 560.2 v3.6 M616.35 560.2 v3.6 M619.91 560.2 v3.6 M623.47 560.2 v3.6 M627.03 560.2 v3.6 M630.59 560.2 v3.6 M634.15 560.2 v3.6 M637.71 560.2 v3.6 M641.27 560.2 v3.6 M644.83 560.2 v3.6 M648.39 560.2 v3.6 M651.95 560.2 v3.6 M655.51 560.2 v3.6 M659.07 560.2 v3.6 M662.63 560.2 v3.6 M666.19 560.2 v3.6 M669.75 560.2 v3.6 M673.31 560.2 v3.6 M676.87 560.2 v3.6 M680.43 560.2 v3.6 M683.99 560.2 v3.6 M687.55 560.2 v3.6 M691.11 560.2 v3.6 M694.67 560.2 v3.6 M698.23 560.2 v3.6 M701.79 560.2 v3.6 M705.35 560.2 v3.6 M708.91 560.2 v3.6 M712.47 560.2 v3.6 M716.03 560.2 v3.6 M719.59 560.2 v3.6 M723.15 560.2 v3.6 M726.71 560.2 v3.6 M730.27 560.2 v3.6 M733.83 560.2 v3.6 M737.39 560.2 v3.6 M740.95 560.2 v3.6 M744.51 560.2 v3.6 M748.07 560.2 v3.6 M751.63 560.2 v3.6 M755.19 560.2 v3.6 M758.75 560.2 v3.6 M762.31 560.2 v3.6 M765.87 560.2 v3.6 M769.43 560.2 v3.6 M772.99 560.2 v3.6 M776.55 560.2 v3.6 M780.11 560.2 v3.6 M783.67 560.2 v3.6 M787.23 560.2 v3.6 M790.79 560.2 v3.6" stroke="#c4c4c4" stroke-width="1"/>
<path d="M53.87 559.7 v2.4 M57.43 559.7 v2.4 M60.99 559.7 v2.4 M64.55 559.7 v2.4 M68.11 559.7 v2.4 M71.67 559.7 v2.4 M75.23 559.7 v2.4 M78.79 559.7 v2.4 M82.35 559.7 v2.4 M85.91 559.7 v2.4 M89.47 559.7 v2.4 M93.03 559.7 v2.4 M96.59 559.7 v2.4 M100.15 559.7 v2.4 M103.71 559.7 v2.4 M107.27 559.7 v2.4 M110.83 559.7 v2.4 M114.39 559.7 v2.4 M117.95 559.7 v2.4 M121.51 559.7 v2.4 M125.07 559.7 v2.4 M128.63 559.7 v2.4 M132.19 559.7 v2.4 M135.75 559.7 v2.4 M139.31 559.7 v2.4 M142.87 559.7 v2.4 M146.43 559.7 v2.4 M149.99 559.7 v2.4 M153.55 559.7 v2.4 M157.11 559.7 v2.4 M160.67 559.7 v2.4 M164.23 559.7 v2.4 M167.79 559.7 v2.4 M171.35 559.7 v2.4 M174.91 559.7 v2.4 M178.47 559.7 v2.4 M182.03 559.7 v2.4 M185.59 559.7 v2.4 M189.15 559.7 v2.4 M192.71 559.7 v2.4 M196.27 559.7 v2.4 M199.83 559.7 v2.4 M203.39 559.7 v2.4 M206.95 559.7 v2.4 M210.51 559.7 v2.4 M214.07 559.7 v2.4 M217.63 559.7 v2.4 M221.19 559.7 v2.4 M224.75 559.7 v2.4 M228.31 559.7 v2.4 M231.87 559.7 v2.4 M235.43 559.7 v2.4 M238.99 559.7 v2.4 M242.55 559.7 v2.4 M246.11 559.7 v2.4 M249.67 559.7 v2.4 M253.23 559.7 v2.4 M256.79 559.7 v2.4 M260.35 559.7 v2.4 M263.91 559.7 v2.4 M267.47 559.7 v2.4 M271.03 559.7 v2.4 M274.59 559.7 v2.4 M278.15 559.7 v2.4 M281.71 559.7 v2.4 M285.27 559.7 v2.4 M288.83 559.7 v2.4 M292.39 559.7 v2.4 M295.95 559.7 v2.4 M299.51 559.7 v2.4 M303.07 559.7 v2.4 M306.63 559.7 v2.4 M310.19 559.7 v2.4 M313.75 559.7 v2.4 M317.31 559.7 v2.4 M320.87 559.7 v2.4 M324.43 559.7 v2.4 M327.99 559.7 v2.4 M331.55 559.7 v2.4 M335.11 559.7 v2.4 M338.67 559.7 v2.4 M342.23 559.7 v2.4 M345.79 559.7 v2.4 M349.35 559.7 v2.4 M352.91 559.7 v2.4 M356.47 559.7 v2.4 M360.03 559.7 v2.4 M363.59 559.7 v2.4 M367.15 559.7 v2.4 M370.71 559.7 v2.4 M374.27 559.7 v2.4 M377.83 559.7 v2.4 M381.39 559.7 v2.4 M384.95 559.7 v2.4 M388.51 559.7 v2.4 M392.07 559.7 v2.4 M395.63 559.7 v2.4 M399.19 559.7 v2.4 M402.75 559.7 v2.4 M406.31 559.7 v2.4 M409.87 559.7 v2.4 M413.43 559.7 v2.4 M416.99 559.7 v2.4 M420.55 559.7 v2.4 M424.11 559.7 v2.4 M427.67 559.7 v2.4 M431.23 559.7 v2.4 M434.79 559.7 v2.4 M438.35 559.7 v2.4 M441.91 559.7 v2.4 M445.47 559.7 v2.4 M449.03 559.7 v2.4 M452.59 559.7 v2.4 M456.15 559.7 v2.4 M459.71 559.7 v2.4 M463.27 559.7 v2.4 M466.83 559.7 v2.4 M470.39 559.7 v2.4 M473.95 559.7 v2.4 M477.51 559.7 v2.4 M481.07 559.7 v2.4 M484.63 559.7 v2.4 M488.19 559.7 v2.4 M491.75 559.7 v2.4 M495.31 559.7 v2.4 M498.87 559.7 v2.4 M502.43 559.7 v2.4 M505.99 559.7 v2.4 M509.55 559.7 v2.4 M513.11 559.7 v2.4 M516.67 559.7 v2.4 M520.23 559.7 v2.4 M523.79 559.7 v2.4 M527.35 559.7 v2.4 M530.91 559.7 v2.4 M534.47 559.7 v2.4 M538.03 559.7 v2.4 M541.59 559.7 v2.4 M545.15 559.7 v2.4 M548.71 559.7 v2.4 M552.27 559.7 v2.4 M555.83 559.7 v2.4 M559.39 559.7 v2.4 M562.95 559.7 v2.4 M566.51 559.7 v2.4 M570.07 559.7 v2.4 M573.63 559.7 v2.4 M577.19 559.7 v2.4 M580.75 559.7 v2.4 M584.31 559.7 v2.4 M587.87 559.7 v2.4 M591.43 559.7 v2.4 M594.99 559.7 v2.4 M598.55 559.7 v2.4 M602.11 559.7 v2.4 M605.67 559.7 v2.4 M609.23 559.7 v2.4 M612.79 559.7 v2.4 M616.35 559.7 v2.4 M619.91 559.7 v2.4 M623.47 559.7 v2.4 M627.03 559.7 v2.4 M630.59 559.7 v2.4 M634.15 559.7 v2.4 M637.71 559.7 v2.4 M641.27 559.7 v2.4 M644.83 559.7 v2.4 M648.39 559.7 v2.4 M651.95 559.7 v2.4 M655.51 559.7 v2.4 M659.07 559.7 v2.4 M662.63 559.7 v2.4 M666.19 559.7 v2.4 M669.75 559.7 v2.4 M673.31 559.7 v2.4 M676.87 559.7 v2.4 M680.43 559.7 v2.4 M683.99 559.7 v2.4 M687.55 559.7 v2.4 M691.11 559.7 v2.4 M694.67 559.7 v2.4 M698.23 559.7 v2.4 M701.79 559.7 v2.4 M705.35 559.7 v2.4 M708.91 559.7 v2.4 M712.47 559.7 v2.4 M716.03 559.7 v2.4 M719.59 559.7 v2.4 M723.15 559.7 v2.4 M726.71 559.7 v2.4 M730.27 559.7 v2.4 M733.83 559.7 v2.4 M737.39 559.7 v2.4 M740.95 559.7 v2.4 M744.51 559.7 v2.4 M748.07 559.7 v2.4 M751.63 559.7 v2.4 M755.19 559.7 v2.4 M758.75 559.7 v2.4 M762.31 559.7 v2.4 M765.87 559.7 v2.4 M769.43 559.7 v2.4 M772.99 559.7 v2.4 M776.55 559.7 v2.4 M780.11 559.7 v2.4 M783.67 559.7 v2.4 M787.23 559.7 v2.4 M790.79 559.7 v2.4" stroke="#111" stroke-width="1.3"/>
<line x1="52.9" y1="559.6" x2="794.0" y2="559.6" stroke="#444" stroke-width="1.2"/>
<text transform="translate(51.37,569.00) rotate(90)" font-size="9.7" font-weight="bold" fill="#000" stroke="#000" stroke-width="0.22" textLength="23.6" lengthAdjust="spacingAndGlyphs">24/02</text>
<text transform="translate(65.62,569.00) rotate(90)" font-size="9.7" font-weight="bold" fill="#000" stroke="#000" stroke-width="0.22" textLength="23.6" lengthAdjust="spacingAndGlyphs">02/03</text>
<text transform="translate(79.88,569.00) rotate(90)" font-size="9.7" font-weight="bold" fill="#000" stroke="#000" stroke-width="0.22" textLength="23.6" lengthAdjust="spacingAndGlyphs">08/03</text>
<text transform="translate(94.13,569.00) rotate(90)" font-size="9.7" font-weight="bold" fill="#000" stroke="#000" stroke-width="0.22" textLength="23.6" lengthAdjust="spacingAndGlyphs">12/03</text>
<text transform="translate(108.39,569.00) rotate(90)" font-size="9.7" font-weight="bold" fill="#000" stroke="#000" stroke-width="0.22" textLength="23.6" lengthAdjust="spacingAndGlyphs">18/03</text>
<text transform="translate(122.64,569.00) rotate(90)" font-size="9.7" font-weight="bold" fill="#000" stroke="#000" stroke-width="0.22" textLength="23.6" lengthAdjust="spacingAndGlyphs">24/03</text>
<text transform="translate(136.90,569.00) rotate(90)" font-size="9.7" font-weight="bold" fill="#000" stroke="#000" stroke-width="0.22" textLength="23.6" lengthAdjust="spacingAndGlyphs">30/03</text>
<text transform="translate(151.15,569.00) rotate(90)" font-size="9.7" font-weight="bold" fill="#000" stroke="#000" stroke-width="0.22" textLength="23.6" lengthAdjust="spacingAndGlyphs">05/04</text>
<text transform="translate(165.40,569.00) rotate(90)" font-size="9.7" font-weight="bold" fill="#000" stroke="#000" stroke-width="0.22" textLength="23.6" lengthAdjust="spacingAndGlyphs">09/04</text>
<text transform="translate(179.66,569.00) rotate(90)" font-size="9.7" font-weight="bold" fill="#000" stroke="#000" stroke-width="0.22" textLength="23.6" lengthAdjust="spacingAndGlyphs">15/04</text>
<text transform="translate(193.91,569.00) rotate(90)" font-size="9.7" font-weight="bold" fill="#000" stroke="#000" stroke-width="0.22" textLength="23.6" lengthAdjust="spacingAndGlyphs">21/04</text>
<text transform="translate(208.17,569.00) rotate(90)" font-size="9.7" font-weight="bold" fill="#000" stroke="#000" stroke-width="0.22" textLength="23.6" lengthAdjust="spacingAndGlyphs">27/04</text>
<text transform="translate(222.42,569.00) rotate(90)" font-size="9.7" font-weight="bold" fill="#000" stroke="#000" stroke-width="0.22" textLength="23.6" lengthAdjust="spacingAndGlyphs">03/05</text>
<text transform="translate(236.68,569.00) rotate(90)" font-size="9.7" font-weight="bold" fill="#000" stroke="#000" stroke-width="0.22" textLength="23.6" lengthAdjust="spacingAndGlyphs">07/05</text>
<text transform="translate(250.93,569.00) rotate(90)" font-size="9.7" font-weight="bold" fill="#000" stroke="#000" stroke-width="0.22" textLength="23.6" lengthAdjust="spacingAndGlyphs">13/05</text>
<text transform="translate(265.18,569.00) rotate(90)" font-size="9.7" font-weight="bold" fill="#000" stroke="#000" stroke-width="0.22" textLength="23.6" lengthAdjust="spacingAndGlyphs">19/05</text>
<text transform="translate(279.44,569.00) rotate(90)" font-size="9.7" font-weight="bold" fill="#000" stroke="#000" stroke-width="0.22" textLength="23.6" lengthAdjust="spacingAndGlyphs">25/05</text>
<text transform="translate(293.69,569.00) rotate(90)" font-size="9.7" font-weight="bold" fill="#000" stroke="#000" stroke-width="0.22" textLength="23.6" lengthAdjust="spacingAndGlyphs">31/05</text>
<text transform="translate(307.95,569.00) rotate(90)" font-size="9.7" font-weight="bold" fill="#000" stroke="#000" stroke-width="0.22" textLength="23.6" lengthAdjust="spacingAndGlyphs">04/06</text>
<text transform="translate(322.20,569.00) rotate(90)" font-size="9.7" font-weight="bold" fill="#000" stroke="#000" stroke-width="0.22" textLength="23.6" lengthAdjust="spacingAndGlyphs">10/06</text>
<text transform="translate(336.46,569.00) rotate(90)" font-size="9.7" font-weight="bold" fill="#000" stroke="#000" stroke-width="0.22" textLength="23.6" lengthAdjust="spacingAndGlyphs">16/06</text>
<text transform="translate(350.71,569.00) rotate(90)" font-size="9.7" font-weight="bold" fill="#000" stroke="#000" stroke-width="0.22" textLength="23.6" lengthAdjust="spacingAndGlyphs">22/06</text>
<text transform="translate(364.96,569.00) rotate(90)" font-size="9.7" font-weight="bold" fill="#000" stroke="#000" stroke-width="0.22" textLength="23.6" lengthAdjust="spacingAndGlyphs">28/06</text>
<text transform="translate(379.22,569.00) rotate(90)" font-size="9.7" font-weight="bold" fill="#000" stroke="#000" stroke-width="0.22" textLength="23.6" lengthAdjust="spacingAndGlyphs">02/07</text>
<text transform="translate(393.47,569.00) rotate(90)" font-size="9.7" font-weight="bold" fill="#000" stroke="#000" stroke-width="0.22" textLength="23.6" lengthAdjust="spacingAndGlyphs">08/07</text>
<text transform="translate(407.73,569.00) rotate(90)" font-size="9.7" font-weight="bold" fill="#000" stroke="#000" stroke-width="0.22" textLength="23.6" lengthAdjust="spacingAndGlyphs">14/07</text>
<text transform="translate(421.98,569.00) rotate(90)" font-size="9.7" font-weight="bold" fill="#000" stroke="#000" stroke-width="0.22" textLength="23.6" lengthAdjust="spacingAndGlyphs">20/07</text>
<text transform="translate(436.24,569.00) rotate(90)" font-size="9.7" font-weight="bold" fill="#000" stroke="#000" stroke-width="0.22" textLength="23.6" lengthAdjust="spacingAndGlyphs">26/07</text>
<text transform="translate(450.49,569.00) rotate(90)" font-size="9.7" font-weight="bold" fill="#000" stroke="#000" stroke-width="0.22" textLength="23.6" lengthAdjust="spacingAndGlyphs">30/07</text>
<text transform="translate(464.75,569.00) rotate(90)" font-size="9.7" font-weight="bold" fill="#000" stroke="#000" stroke-width="0.22" textLength="23.6" lengthAdjust="spacingAndGlyphs">05/08</text>
<text transform="translate(479.00,569.00) rotate(90)" font-size="9.7" font-weight="bold" fill="#000" stroke="#000" stroke-width="0.22" textLength="23.6" lengthAdjust="spacingAndGlyphs">11/08</text>
<text transform="translate(493.25,569.00) rotate(90)" font-size="9.7" font-weight="bold" fill="#000" stroke="#000" stroke-width="0.22" textLength="23.6" lengthAdjust="spacingAndGlyphs">17/08</text>
<text transform="translate(507.51,569.00) rotate(90)" font-size="9.7" font-weight="bold" fill="#000" stroke="#000" stroke-width="0.22" textLength="23.6" lengthAdjust="spacingAndGlyphs">23/08</text>
<text transform="translate(521.76,569.00) rotate(90)" font-size="9.7" font-weight="bold" fill="#000" stroke="#000" stroke-width="0.22" textLength="23.6" lengthAdjust="spacingAndGlyphs">27/08</text>
<text transform="translate(536.02,569.00) rotate(90)" font-size="9.7" font-weight="bold" fill="#000" stroke="#000" stroke-width="0.22" textLength="23.6" lengthAdjust="spacingAndGlyphs">02/09</text>
<text transform="translate(550.27,569.00) rotate(90)" font-size="9.7" font-weight="bold" fill="#000" stroke="#000" stroke-width="0.22" textLength="23.6" lengthAdjust="spacingAndGlyphs">08/09</text>
<text transform="translate(564.53,569.00) rotate(90)" font-size="9.7" font-weight="bold" fill="#000" stroke="#000" stroke-width="0.22" textLength="23.6" lengthAdjust="spacingAndGlyphs">14/09</text>
<text transform="translate(578.78,569.00) rotate(90)" font-size="9.7" font-weight="bold" fill="#000" stroke="#000" stroke-width="0.22" textLength="23.6" lengthAdjust="spacingAndGlyphs">20/09</text>
<text transform="translate(593.03,569.00) rotate(90)" font-size="9.7" font-weight="bold" fill="#000" stroke="#000" stroke-width="0.22" textLength="23.6" lengthAdjust="spacingAndGlyphs">24/09</text>
<text transform="translate(607.29,569.00) rotate(90)" font-size="9.7" font-weight="bold" fill="#000" stroke="#000" stroke-width="0.22" textLength="23.6" lengthAdjust="spacingAndGlyphs">30/09</text>
<text transform="translate(621.54,569.00) rotate(90)" font-size="9.7" font-weight="bold" fill="#000" stroke="#000" stroke-width="0.22" textLength="23.6" lengthAdjust="spacingAndGlyphs">06/10</text>
<text transform="translate(635.80,569.00) rotate(90)" font-size="9.7" font-weight="bold" fill="#000" stroke="#000" stroke-width="0.22" textLength="23.6" lengthAdjust="spacingAndGlyphs">12/10</text>
<text transform="translate(650.05,569.00) rotate(90)" font-size="9.7" font-weight="bold" fill="#000" stroke="#000" stroke-width="0.22" textLength="23.6" lengthAdjust="spacingAndGlyphs">18/10</text>
<text transform="translate(664.31,569.00) rotate(90)" font-size="9.7" font-weight="bold" fill="#000" stroke="#000" stroke-width="0.22" textLength="23.6" lengthAdjust="spacingAndGlyphs">22/10</text>
<text transform="translate(678.56,569.00) rotate(90)" font-size="9.7" font-weight="bold" fill="#000" stroke="#000" stroke-width="0.22" textLength="23.6" lengthAdjust="spacingAndGlyphs">28/10</text>
<text transform="translate(692.81,569.00) rotate(90)" font-size="9.7" font-weight="bold" fill="#000" stroke="#000" stroke-width="0.22" textLength="23.6" lengthAdjust="spacingAndGlyphs">03/11</text>
<text transform="translate(707.07,569.00) rotate(90)" font-size="9.7" font-weight="bold" fill="#000" stroke="#000" stroke-width="0.22" textLength="23.6" lengthAdjust="spacingAndGlyphs">09/11</text>
<text transform="translate(721.32,569.00) rotate(90)" font-size="9.7" font-weight="bold" fill="#000" stroke="#000" stroke-width="0.22" textLength="23.6" lengthAdjust="spacingAndGlyphs">15/11</text>
<text transform="translate(735.58,569.00) rotate(90)" font-size="9.7" font-weight="bold" fill="#000" stroke="#000" stroke-width="0.22" textLength="23.6" lengthAdjust="spacingAndGlyphs">19/11</text>
<text transform="translate(749.83,569.00) rotate(90)" font-size="9.7" font-weight="bold" fill="#000" stroke="#000" stroke-width="0.22" textLength="23.6" lengthAdjust="spacingAndGlyphs">25/11</text>
<text transform="translate(764.09,569.00) rotate(90)" font-size="9.7" font-weight="bold" fill="#000" stroke="#000" stroke-width="0.22" textLength="23.6" lengthAdjust="spacingAndGlyphs">01/12</text>
<text transform="translate(778.34,569.00) rotate(90)" font-size="9.7" font-weight="bold" fill="#000" stroke="#000" stroke-width="0.22" textLength="23.6" lengthAdjust="spacingAndGlyphs">07/12</text>
<polyline points="53.60,548.50 57.30,546.50 61.40,548.80 69.50,548.50 71.90,546.10 75.70,536.30 79.25,536.30 82.50,538.75 89.80,538.75 96.80,533.50 99.60,533.50 107.20,527.40 111.40,533.10 115.00,530.30 119.10,533.50 123.90,535.20 128.80,536.30 132.50,527.40 139.70,539.10 143.40,527.00 147.50,526.60 153.20,525.40 157.25,530.30 160.50,531.90 164.60,527.40 167.80,527.40 171.10,528.50 175.10,528.50 179.50,525.50 184.00,524.90 186.75,523.70 189.50,523.10 193.10,517.70 196.70,499.60 200.30,490.60 203.90,493.30 207.20,491.10 214.80,502.70 218.40,499.10 222.00,485.20 225.30,480.60 228.90,463.50 232.90,455.30 239.20,438.70 243.40,450.25 247.00,440.85 253.70,471.60 257.30,472.50 260.90,477.90 264.50,481.50 268.10,496.50 271.75,486.40 275.40,497.80 285.70,511.70 289.30,493.30 292.90,496.00 296.50,491.50 299.80,475.60 306.90,493.00 310.70,480.30 314.80,470.90 318.10,466.00 321.40,465.50 325.00,463.40 329.30,473.70 332.10,493.50 339.50,504.20 342.80,528.50 346.90,521.50 353.50,533.50 356.80,533.50 360.60,529.20 364.20,535.10 367.50,530.50 371.10,528.90 374.90,506.20 378.70,510.40 381.90,508.80 385.60,508.80 388.90,523.10 393.00,518.70 396.30,522.30 403.70,512.70 407.00,501.70 410.25,502.90 414.40,499.60 417.70,499.60 421.40,502.20 425.10,496.80 428.25,502.30 431.80,497.10 435.60,499.60 442.50,496.80 446.10,491.00 450.20,490.60 453.40,494.70 457.50,487.70 460.75,490.30 464.00,487.70 468.10,490.30 471.30,487.70 477.00,489.00 481.10,487.70 488.70,478.40 496.20,487.40 499.75,480.90 503.30,493.10 507.10,501.70 510.30,498.40 514.00,491.00 518.00,490.60 521.70,487.70 528.20,490.60 531.90,491.00 535.50,504.00 542.30,495.50 550.10,502.80 553.25,504.40 558.10,502.30 563.80,502.30 569.50,498.40 574.40,498.40 578.40,496.80 582.50,500.00 585.75,500.00 589.80,491.40 592.60,491.90 597.10,495.20 600.40,493.10 603.60,493.10 607.70,491.40 610.40,491.90 615.80,496.30 621.50,496.30 628.00,495.80 638.60,502.80 642.60,511.75 652.40,499.60 656.40,501.20 660.20,493.50 663.75,502.80 666.70,497.10 670.25,498.40 677.90,487.80 681.20,489.10 686.50,486.60 692.20,478.40 695.50,486.60 698.80,487.50 702.90,490.40 709.50,493.20 713.10,481.70 716.90,483.80 720.20,480.10 727.60,484.20 731.70,480.60 735.00,484.50 739.10,482.90 745.70,485.80 749.30,482.90 752.60,484.20 756.40,481.70 760.20,487.80 763.50,496.00 767.10,487.80 771.20,486.60 775.30,482.50 779.40,480.90 783.50,480.90 787.70,478.90 791.40,478.40" fill="none" stroke="#f08038" stroke-opacity="0.4" stroke-width="2.5" stroke-linejoin="round" stroke-linecap="round"/>
<polyline points="53.60,548.50 57.30,546.50 61.40,548.80 69.50,548.50 71.90,546.10 75.70,536.30 79.25,536.30 82.50,538.75 89.80,538.75 96.80,533.50 99.60,533.50 107.20,527.40 111.40,533.10 115.00,530.30 119.10,533.50 123.90,535.20 128.80,536.30 132.50,527.40 139.70,539.10 143.40,527.00 147.50,526.60 153.20,525.40 157.25,530.30 160.50,531.90 164.60,527.40 167.80,527.40 171.10,528.50 175.10,528.50 179.50,525.50 184.00,524.90 186.75,523.70 189.50,523.10 193.10,517.70 196.70,499.60 200.30,490.60 203.90,493.30 207.20,491.10 214.80,502.70 218.40,499.10 222.00,485.20 225.30,480.60 228.90,463.50 232.90,455.30 239.20,438.70 243.40,450.25 247.00,440.85 253.70,471.60 257.30,472.50 260.90,477.90 264.50,481.50 268.10,496.50 271.75,486.40 275.40,497.80 285.70,511.70 289.30,493.30 292.90,496.00 296.50,491.50 299.80,475.60 306.90,493.00 310.70,480.30 314.80,470.90 318.10,466.00 321.40,465.50 325.00,463.40 329.30,473.70 332.10,493.50 339.50,504.20 342.80,528.50 346.90,521.50 353.50,533.50 356.80,533.50 360.60,529.20 364.20,535.10 367.50,530.50 371.10,528.90 374.90,506.20 378.70,510.40 381.90,508.80 385.60,508.80 388.90,523.10 393.00,518.70 396.30,522.30 403.70,512.70 407.00,501.70 410.25,502.90 414.40,499.60 417.70,499.60 421.40,502.20 425.10,496.80 428.25,502.30 431.80,497.10 435.60,499.60 442.50,496.80 446.10,491.00 450.20,490.60 453.40,494.70 457.50,487.70 460.75,490.30 464.00,487.70 468.10,490.30 471.30,487.70 477.00,489.00 481.10,487.70 488.70,478.40 496.20,487.40 499.75,480.90 503.30,493.10 507.10,501.70 510.30,498.40 514.00,491.00 518.00,490.60 521.70,487.70 528.20,490.60 531.90,491.00 535.50,504.00 542.30,495.50 550.10,502.80 553.25,504.40 558.10,502.30 563.80,502.30 569.50,498.40 574.40,498.40 578.40,496.80 582.50,500.00 585.75,500.00 589.80,491.40 592.60,491.90 597.10,495.20 600.40,493.10 603.60,493.10 607.70,491.40 610.40,491.90 615.80,496.30 621.50,496.30 628.00,495.80 638.60,502.80 642.60,511.75 652.40,499.60 656.40,501.20 660.20,493.50 663.75,502.80 666.70,497.10 670.25,498.40 677.90,487.80 681.20,489.10 686.50,486.60 692.20,478.40 695.50,486.60 698.80,487.50 702.90,490.40 709.50,493.20 713.10,481.70 716.90,483.80 720.20,480.10 727.60,484.20 731.70,480.60 735.00,484.50 739.10,482.90 745.70,485.80 749.30,482.90 752.60,484.20 756.40,481.70 760.20,487.80 763.50,496.00 767.10,487.80 771.20,486.60 775.30,482.50 779.40,480.90 783.50,480.90 787.70,478.90 791.40,478.40" fill="none" stroke="#8a2400" stroke-width="1.15" stroke-linejoin="round" stroke-linecap="round"/>
<line x1="789.0" y1="478.4" x2="794.0" y2="478.4" stroke="#c01830" stroke-width="1.1"/>
<text x="346.25" y="425" font-size="13.2" font-weight="bold" fill="#000" stroke="#000" stroke-width="0.45" textLength="152.5" lengthAdjust="spacingAndGlyphs">FUTURO MAÍZ JULIO 2022</text>
<text transform="translate(16.50,564.00) rotate(-90)" font-size="11" fill="#333" textLength="103.0" lengthAdjust="spacingAndGlyphs">Evolución de precios</text>
<rect x="634.2" y="511.75" width="146.20" height="38.75" fill="#a8a8a8" opacity="0.8" filter="url(#sh)"/>
<rect x="634.2" y="516.25" width="146.20" height="29.25" fill="#fff" stroke="#606060" stroke-width="1"/>
<rect x="644" y="526.8" width="13.00" height="9.70" fill="#f00000" stroke="#b00000" stroke-width="0.8"/>
<text x="661.6" y="536.4" font-size="16" fill="#111" stroke="#111" stroke-width="0.5" textLength="109.2" lengthAdjust="spacingAndGlyphs">10/12/2021 : 183</text>
</svg></body></html>
